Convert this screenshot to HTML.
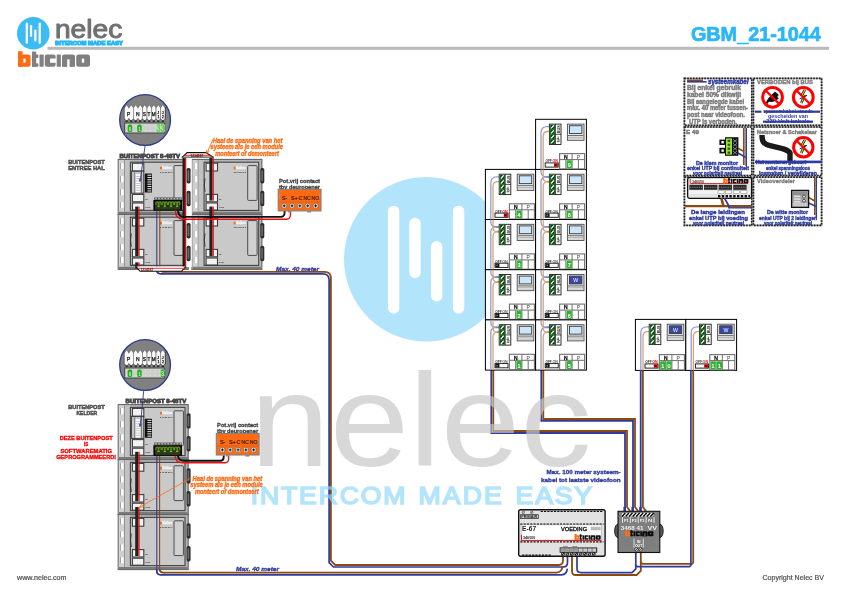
<!DOCTYPE html>
<html><head><meta charset="utf-8"><title>GBM_21-1044</title>
<style>
html,body{margin:0;padding:0;background:#fff;}
body{width:841px;height:595px;overflow:hidden;font-family:"Liberation Sans",sans-serif;}
svg{display:block;will-change:transform;}
svg text{font-family:"Liberation Sans",sans-serif;}
svg text.serif{font-family:"Liberation Serif",serif;}
</style></head>
<body>
<svg width="841" height="595" viewBox="0 0 841 595">
<rect width="841" height="595" fill="#fff"/>
<g id="header">
<circle cx="33.3" cy="33.2" r="16.3" fill="#3cbcf4"/><rect x="25.69" y="22.60" width="2.26" height="21.39" rx="1.13" fill="#fff"/><rect x="29.93" y="25.00" width="2.26" height="11.96" rx="1.13" fill="#fff"/><rect x="34.23" y="29.60" width="2.26" height="11.98" rx="1.13" fill="#fff"/><rect x="38.57" y="22.60" width="2.26" height="21.39" rx="1.13" fill="#fff"/>
<text x="54.9" y="37.6" font-size="26" fill="#707070" stroke="#707070" stroke-width="1" stroke-linejoin="round" text-anchor="start" textLength="67.4" lengthAdjust="spacingAndGlyphs">nelec</text>
<text x="55.2" y="45.3" font-size="5.2" fill="#29b6f6" font-weight="bold" text-anchor="start" textLength="67.8" lengthAdjust="spacingAndGlyphs" stroke="#29b6f6" stroke-width="1.0">INTERCOM MADE EASY</text>
<rect x="47.5" y="46.8" width="781.5" height="3" fill="#b9b9b9"/>
<g transform="translate(18,51.2) scale(1.0)"><rect x="0" y="0" width="4.60" height="15.60" rx="0.6" fill="#ff6a13"/><rect x="0" y="3.2" width="12.60" height="12.40" rx="2.2" fill="#ff6a13"/><rect x="5.4" y="7.4" width="2.20" height="4.20" rx="0.6" fill="#fff"/><rect x="14" y="0.4" width="4.20" height="15.20" rx="0.6" fill="#808080"/><rect x="14" y="3.2" width="6.40" height="3.60" rx="0.4" fill="#808080"/><rect x="14" y="12" width="6.40" height="3.60" rx="1.2" fill="#808080"/><rect x="21.5" y="3.2" width="4.20" height="12.40" rx="0.5" fill="#808080"/><rect x="26.8" y="3.2" width="10.80" height="12.40" rx="2.2" fill="#808080"/><rect x="32" y="7.4" width="6.00" height="4.20" rx="0.5" fill="#fff"/><rect x="38.7" y="3.2" width="4.20" height="12.40" rx="0.5" fill="#808080"/><rect x="44" y="3.2" width="13.00" height="12.40" rx="2.2" fill="#808080"/><rect x="44" y="9" width="13.00" height="6.60" rx="0.3" fill="#808080"/><rect x="49.2" y="8" width="2.40" height="7.80" rx="0.6" fill="#fff"/><rect x="58.2" y="3.2" width="13.80" height="12.40" rx="2.4" fill="#808080"/><rect x="63.8" y="7.4" width="2.40" height="4.20" rx="0.6" fill="#fff"/></g>
<text x="820.9" y="40.6" font-size="20" fill="#2bb7f7" font-weight="bold" text-anchor="end" textLength="130" lengthAdjust="spacingAndGlyphs" stroke="#2bb7f7" stroke-width="0.7">GBM_21-1044</text>
</g>
<g id="wires"><path d="M159.8 262 V268 Q159.8 271.8 163.6 271.8 H324.6 Q330.9 271.8 330.9 278 V560.6 L335.3 565 H558.6 Q563 565 563 560.6 V556" fill="none" stroke="#8a4a10" stroke-width="1.8" stroke-linejoin="miter"/><path d="M156.8 262 V270 Q156.8 273.8 160.6 273.8 H322.8 Q329.1 273.8 329.1 280 V562.6 L333.5 567 H563.1 Q567.5 567 567.5 562.6 V556" fill="none" stroke="#2f3c9e" stroke-width="1.7" stroke-linejoin="miter"/><path d="M159.6 560 V568.8 Q159.6 572.6 163.4 572.6 H556.6 Q562 572.4 562.6 566" fill="none" stroke="#8a4a10" stroke-width="1.8" stroke-linejoin="miter"/><path d="M156.8 560 V571 Q156.8 574.8 160.6 574.8 H561.4 Q566.8 574.6 567.3 568.6" fill="none" stroke="#2f3c9e" stroke-width="1.7" stroke-linejoin="miter"/><path d="M572 556 V571.2 Q572 575 575.8 575 H636.6 L640.8 570.8 V552" fill="none" stroke="#8a4a10" stroke-width="1.8" stroke-linejoin="miter"/><path d="M577 556 V568.8 Q577 572.6 580.8 572.6 H632 L635.8 568.8 V552" fill="none" stroke="#2f3c9e" stroke-width="1.7" stroke-linejoin="miter"/><path d="M693.2 370 V562.6 L692 563.8 H642.4 L640.8 562" fill="none" stroke="#8a4a10" stroke-width="1.8" stroke-linejoin="miter"/><path d="M690.9 370 V565.4 L689.6 566.7 H637 L635.8 565.4" fill="none" stroke="#2f3c9e" stroke-width="1.7" stroke-linejoin="miter"/><path d="M640.7 370 V511" fill="none" stroke="#2f3c9e" stroke-width="1.8" stroke-linejoin="miter"/><rect x="639.2" y="507" width="2.6" height="4.4" fill="#2f3c9e"/><path d="M642.9 370 V507 L645.5 510.4 V511.4" fill="none" stroke="#8a4a10" stroke-width="1.8" stroke-linejoin="miter"/><path d="M541.3 369 V420.9 H633 V511" fill="none" stroke="#2f3c9e" stroke-width="1.8" stroke-linejoin="miter"/><rect x="631.4" y="507" width="2.6" height="4.4" fill="#2f3c9e"/><path d="M543.3 369 V419 H635 V507 L637.6 510.4 V511.4" fill="none" stroke="#8a4a10" stroke-width="1.8" stroke-linejoin="miter"/><path d="M491.3 369 V433 H625 V511" fill="none" stroke="#2f3c9e" stroke-width="1.8" stroke-linejoin="miter"/><rect x="623.4" y="507" width="2.6" height="4.4" fill="#2f3c9e"/><path d="M493.3 369 V431 H627 V507 L629.6 510.4 V511.4" fill="none" stroke="#8a4a10" stroke-width="1.8" stroke-linejoin="miter"/></g>
<g id="wm" opacity="0.68">
<circle cx="426.3" cy="259.2" r="82.3" fill="#8fd9fb"/><rect x="387.90" y="205.70" width="11.40" height="108.00" rx="5.70" fill="#fff"/><rect x="409.30" y="217.80" width="11.40" height="60.40" rx="5.70" fill="#fff"/><rect x="431.00" y="241.00" width="11.40" height="60.50" rx="5.70" fill="#fff"/><rect x="452.90" y="205.70" width="11.40" height="108.00" rx="5.70" fill="#fff"/>
<text x="250.3" y="466" font-size="132" fill="#c7c7c7" text-anchor="start" textLength="341.2" lengthAdjust="spacingAndGlyphs">nelec</text>
<text transform="translate(250.8,504) scale(1.1,1)" font-size="24.2" fill="#8fd9fb" stroke="#8fd9fb" stroke-width="1.6" textLength="140.5" lengthAdjust="spacing">INTERCOM</text>
<text transform="translate(418.59999999999997,504) scale(1.1,1)" font-size="24.2" fill="#8fd9fb" stroke="#8fd9fb" stroke-width="1.6" textLength="75.6" lengthAdjust="spacing">MADE</text>
<text transform="translate(515.6,504) scale(1.1,1)" font-size="24.2" fill="#8fd9fb" stroke="#8fd9fb" stroke-width="1.6" textLength="69.5" lengthAdjust="spacing">EASY</text>
</g>
<g id="st_top"><g transform="translate(118.2,159.4)"><rect x="0" y="0" width="70" height="55" fill="#b6b6b6" stroke="#646464" stroke-width="1.1"/><rect x="0.6" y="0.6" width="6" height="53.8" fill="#d0d0d0"/><rect x="2" y="3.6" width="0.8" height="6.1" fill="#8a8a8a"/><rect x="2.7" y="3.6" width="2.7" height="6.1" fill="#fff"/><rect x="2" y="16.7" width="0.8" height="6.1" fill="#8a8a8a"/><rect x="2.7" y="16.7" width="2.7" height="6.1" fill="#fff"/><rect x="2" y="29.8" width="0.8" height="6.1" fill="#8a8a8a"/><rect x="2.7" y="29.8" width="2.7" height="6.1" fill="#fff"/><rect x="2" y="42.6" width="0.8" height="6.1" fill="#8a8a8a"/><rect x="2.7" y="42.6" width="2.7" height="6.1" fill="#fff"/><rect x="5.9" y="0.6" width="0.8" height="53.8" fill="#808080"/><rect x="6.7" y="0.6" width="5.4" height="53.8" fill="#c2c2c2"/><rect x="0.6" y="52.4" width="68.8" height="2.2" fill="#7a7a7a"/><rect x="12.2" y="2.8" width="54.6" height="48.2" fill="#c9c9c9" stroke="#484848" stroke-width="1.15"/><rect x="14.2" y="3.8" width="11.4" height="7.8" fill="#f2f2f2" stroke="#3c3c3c" stroke-width="1.1"/><path d="M13.2 19 Q11.6 25.5 13.2 32.4" fill="none" stroke="#2c2c2c" stroke-width="0.8"/><rect x="14.2" y="35" width="11.4" height="7.4" fill="#f2f2f2" stroke="#3c3c3c" stroke-width="1.1"/><rect x="14.2" y="43.6" width="11.4" height="7" fill="#f2f2f2" stroke="#3c3c3c" stroke-width="1.1"/><text x="26.8" y="40.2" font-size="2.5" fill="#333" font-weight="bold" text-anchor="start" >IN</text><text x="26.8" y="48.4" font-size="2.5" fill="#333" font-weight="bold" text-anchor="start" >OUT</text><rect x="41.8" y="7.3" width="1.9" height="2.6" fill="#ff6a13"/><text x="44" y="9.9" font-size="3.2" fill="#f4f4f4" font-weight="bold" text-anchor="start" textLength="10" lengthAdjust="spacingAndGlyphs" stroke="#f4f4f4" stroke-width="0.3">ticino</text><text x="41.6" y="13.5" font-size="2.5" fill="#222" font-weight="bold" text-anchor="start" textLength="12.8" lengthAdjust="spacingAndGlyphs" font-style="italic">342 91 00 1</text><rect x="55.8" y="6.2" width="9.4" height="34.8" rx="0.8" fill="#d0d0d0" stroke="#4c4c4c" stroke-width="1"/><rect x="13.2" y="11.8" width="12.4" height="22" fill="#c4c4c4" stroke="#3a3a3a" stroke-width="1"/><path d="M16.4 12 V33.6 M23.3 12 V33.6" stroke="#555" stroke-width="0.6"/><rect x="17.5" y="14.6" width="4.7" height="18.4" fill="#fbfbfb"/><rect x="17.5" y="16.70" width="4.7" height="0.6" fill="#a8a8a8"/><rect x="17.5" y="19.00" width="4.7" height="0.6" fill="#a8a8a8"/><rect x="17.5" y="21.30" width="4.7" height="0.6" fill="#a8a8a8"/><rect x="17.5" y="23.60" width="4.7" height="0.6" fill="#a8a8a8"/><rect x="17.5" y="25.90" width="4.7" height="0.6" fill="#a8a8a8"/><rect x="17.5" y="28.20" width="4.7" height="0.6" fill="#a8a8a8"/><rect x="17.5" y="30.50" width="4.7" height="0.6" fill="#a8a8a8"/><rect x="26.6" y="14.2" width="7.2" height="19" rx="0.6" fill="#111"/><rect x="29.2" y="15.30" width="4" height="1" fill="#f0f0f0"/><rect x="29.2" y="17.55" width="4" height="1" fill="#f0f0f0"/><rect x="29.2" y="19.80" width="4" height="1" fill="#f0f0f0"/><rect x="29.2" y="22.05" width="4" height="1" fill="#f0f0f0"/><rect x="29.2" y="24.30" width="4" height="1" fill="#f0f0f0"/><rect x="29.2" y="26.55" width="4" height="1" fill="#f0f0f0"/><rect x="29.2" y="28.80" width="4" height="1" fill="#f0f0f0"/><rect x="29.2" y="31.05" width="4" height="1" fill="#f0f0f0"/><rect x="36" y="38" width="27.6" height="2.5" fill="#585858"/><rect x="37.00" y="38.5" width="1.7" height="1.4" fill="#b8b8b8"/><rect x="40.05" y="38.5" width="1.7" height="1.4" fill="#b8b8b8"/><rect x="43.10" y="38.5" width="1.7" height="1.4" fill="#b8b8b8"/><rect x="46.15" y="38.5" width="1.7" height="1.4" fill="#b8b8b8"/><rect x="49.20" y="38.5" width="1.7" height="1.4" fill="#b8b8b8"/><rect x="52.25" y="38.5" width="1.7" height="1.4" fill="#b8b8b8"/><rect x="55.30" y="38.5" width="1.7" height="1.4" fill="#b8b8b8"/><rect x="58.35" y="38.5" width="1.7" height="1.4" fill="#b8b8b8"/><rect x="61.40" y="38.5" width="1.7" height="1.4" fill="#b8b8b8"/><rect x="35.2" y="40.6" width="28.6" height="10.6" fill="#050505"/><rect x="36.8" y="42" width="25.4" height="8" fill="#22390c"/><path d="M37.80 45.6 V43.6 Q37.80 42.4 39.00 42.4 Q40.20 42.4 40.20 43.6 V45.6 M40.60 45.6 V43.6 Q40.60 42.4 41.80 42.4 Q43.00 42.4 43.00 43.6 V45.6" fill="none" stroke="#5f921c" stroke-width="1.15"/><rect x="39.30" y="46.1" width="2.2" height="1.2" fill="#8fe020"/><rect x="37.60" y="47.6" width="5.4" height="1.6" fill="#3a3a3a"/><path d="M44.00 45.6 V43.6 Q44.00 42.4 45.20 42.4 Q46.40 42.4 46.40 43.6 V45.6 M46.80 45.6 V43.6 Q46.80 42.4 48.00 42.4 Q49.20 42.4 49.20 43.6 V45.6" fill="none" stroke="#5f921c" stroke-width="1.15"/><rect x="45.50" y="46.1" width="2.2" height="1.2" fill="#8fe020"/><rect x="43.80" y="47.6" width="5.4" height="1.6" fill="#3a3a3a"/><path d="M50.20 45.6 V43.6 Q50.20 42.4 51.40 42.4 Q52.60 42.4 52.60 43.6 V45.6 M53.00 45.6 V43.6 Q53.00 42.4 54.20 42.4 Q55.40 42.4 55.40 43.6 V45.6" fill="none" stroke="#5f921c" stroke-width="1.15"/><rect x="51.70" y="46.1" width="2.2" height="1.2" fill="#8fe020"/><rect x="50.00" y="47.6" width="5.4" height="1.6" fill="#3a3a3a"/><path d="M56.40 45.6 V43.6 Q56.40 42.4 57.60 42.4 Q58.80 42.4 58.80 43.6 V45.6 M59.20 45.6 V43.6 Q59.20 42.4 60.40 42.4 Q61.60 42.4 61.60 43.6 V45.6" fill="none" stroke="#5f921c" stroke-width="1.15"/><rect x="57.90" y="46.1" width="2.2" height="1.2" fill="#8fe020"/><rect x="56.20" y="47.6" width="5.4" height="1.6" fill="#3a3a3a"/><rect x="36.8" y="49.2" width="25.4" height="1" fill="#24400c"/><rect x="68.4" y="8.6" width="4" height="15.4" rx="1.6" fill="#2e2e2e"/><rect x="69.4" y="10.8" width="1.6" height="11" rx="0.8" fill="#6a6a6a"/><rect x="68.4" y="31.4" width="4" height="15.4" rx="1.6" fill="#2e2e2e"/><rect x="69.4" y="33.6" width="1.6" height="11" rx="0.8" fill="#6a6a6a"/></g><g transform="translate(118.2,214.4)"><rect x="0" y="0" width="70" height="55" fill="#b6b6b6" stroke="#646464" stroke-width="1.1"/><rect x="0.6" y="0.6" width="6" height="53.8" fill="#d0d0d0"/><rect x="2" y="3.6" width="0.8" height="6.1" fill="#8a8a8a"/><rect x="2.7" y="3.6" width="2.7" height="6.1" fill="#fff"/><rect x="2" y="16.7" width="0.8" height="6.1" fill="#8a8a8a"/><rect x="2.7" y="16.7" width="2.7" height="6.1" fill="#fff"/><rect x="2" y="29.8" width="0.8" height="6.1" fill="#8a8a8a"/><rect x="2.7" y="29.8" width="2.7" height="6.1" fill="#fff"/><rect x="2" y="42.6" width="0.8" height="6.1" fill="#8a8a8a"/><rect x="2.7" y="42.6" width="2.7" height="6.1" fill="#fff"/><rect x="5.9" y="0.6" width="0.8" height="53.8" fill="#808080"/><rect x="6.7" y="0.6" width="5.4" height="53.8" fill="#c2c2c2"/><rect x="0.6" y="52.4" width="68.8" height="2.2" fill="#7a7a7a"/><rect x="12.2" y="2.8" width="54.6" height="48.2" fill="#c9c9c9" stroke="#484848" stroke-width="1.15"/><rect x="14.2" y="3.8" width="11.4" height="7.8" fill="#f2f2f2" stroke="#3c3c3c" stroke-width="1.1"/><path d="M13.2 19 Q11.6 25.5 13.2 32.4" fill="none" stroke="#2c2c2c" stroke-width="0.8"/><rect x="14.2" y="35" width="11.4" height="7.4" fill="#f2f2f2" stroke="#3c3c3c" stroke-width="1.1"/><rect x="14.2" y="43.6" width="11.4" height="7" fill="#f2f2f2" stroke="#3c3c3c" stroke-width="1.1"/><text x="26.8" y="40.2" font-size="2.5" fill="#333" font-weight="bold" text-anchor="start" >IN</text><text x="26.8" y="48.4" font-size="2.5" fill="#333" font-weight="bold" text-anchor="start" >OUT</text><rect x="41.8" y="7.3" width="1.9" height="2.6" fill="#ff6a13"/><text x="44" y="9.9" font-size="3.2" fill="#f4f4f4" font-weight="bold" text-anchor="start" textLength="10" lengthAdjust="spacingAndGlyphs" stroke="#f4f4f4" stroke-width="0.3">ticino</text><text x="41.6" y="13.5" font-size="2.5" fill="#222" font-weight="bold" text-anchor="start" textLength="12.8" lengthAdjust="spacingAndGlyphs" font-style="italic">342 91 00 1</text><rect x="55.8" y="6.2" width="9.4" height="34.8" rx="0.8" fill="#d0d0d0" stroke="#4c4c4c" stroke-width="1"/><rect x="68.4" y="8.6" width="4" height="15.4" rx="1.6" fill="#2e2e2e"/><rect x="69.4" y="10.8" width="1.6" height="11" rx="0.8" fill="#6a6a6a"/><rect x="68.4" y="31.4" width="4" height="15.4" rx="1.6" fill="#2e2e2e"/><rect x="69.4" y="33.6" width="1.6" height="11" rx="0.8" fill="#6a6a6a"/></g><g transform="translate(191.9,159.4)"><rect x="0" y="0" width="70" height="55" fill="#b6b6b6" stroke="#646464" stroke-width="1.1"/><rect x="0.6" y="0.6" width="6" height="53.8" fill="#d0d0d0"/><rect x="2" y="3.6" width="0.8" height="6.1" fill="#8a8a8a"/><rect x="2.7" y="3.6" width="2.7" height="6.1" fill="#fff"/><rect x="2" y="16.7" width="0.8" height="6.1" fill="#8a8a8a"/><rect x="2.7" y="16.7" width="2.7" height="6.1" fill="#fff"/><rect x="2" y="29.8" width="0.8" height="6.1" fill="#8a8a8a"/><rect x="2.7" y="29.8" width="2.7" height="6.1" fill="#fff"/><rect x="2" y="42.6" width="0.8" height="6.1" fill="#8a8a8a"/><rect x="2.7" y="42.6" width="2.7" height="6.1" fill="#fff"/><rect x="5.9" y="0.6" width="0.8" height="53.8" fill="#808080"/><rect x="6.7" y="0.6" width="5.4" height="53.8" fill="#c2c2c2"/><rect x="0.6" y="52.4" width="68.8" height="2.2" fill="#7a7a7a"/><rect x="12.2" y="2.8" width="54.6" height="48.2" fill="#c9c9c9" stroke="#484848" stroke-width="1.15"/><rect x="14.2" y="3.8" width="11.4" height="7.8" fill="#f2f2f2" stroke="#3c3c3c" stroke-width="1.1"/><path d="M13.2 19 Q11.6 25.5 13.2 32.4" fill="none" stroke="#2c2c2c" stroke-width="0.8"/><rect x="14.2" y="35" width="11.4" height="7.4" fill="#f2f2f2" stroke="#3c3c3c" stroke-width="1.1"/><rect x="14.2" y="43.6" width="11.4" height="7" fill="#f2f2f2" stroke="#3c3c3c" stroke-width="1.1"/><text x="26.8" y="40.2" font-size="2.5" fill="#333" font-weight="bold" text-anchor="start" >IN</text><text x="26.8" y="48.4" font-size="2.5" fill="#333" font-weight="bold" text-anchor="start" >OUT</text><rect x="41.8" y="7.3" width="1.9" height="2.6" fill="#ff6a13"/><text x="44" y="9.9" font-size="3.2" fill="#f4f4f4" font-weight="bold" text-anchor="start" textLength="10" lengthAdjust="spacingAndGlyphs" stroke="#f4f4f4" stroke-width="0.3">ticino</text><text x="41.6" y="13.5" font-size="2.5" fill="#222" font-weight="bold" text-anchor="start" textLength="12.8" lengthAdjust="spacingAndGlyphs" font-style="italic">342 91 00 1</text><rect x="55.8" y="6.2" width="9.4" height="34.8" rx="0.8" fill="#d0d0d0" stroke="#4c4c4c" stroke-width="1"/><rect x="68.4" y="8.6" width="4" height="15.4" rx="1.6" fill="#2e2e2e"/><rect x="69.4" y="10.8" width="1.6" height="11" rx="0.8" fill="#6a6a6a"/><rect x="68.4" y="31.4" width="4" height="15.4" rx="1.6" fill="#2e2e2e"/><rect x="69.4" y="33.6" width="1.6" height="11" rx="0.8" fill="#6a6a6a"/></g><g transform="translate(191.9,214.4)"><rect x="0" y="0" width="70" height="55" fill="#b6b6b6" stroke="#646464" stroke-width="1.1"/><rect x="0.6" y="0.6" width="6" height="53.8" fill="#d0d0d0"/><rect x="2" y="3.6" width="0.8" height="6.1" fill="#8a8a8a"/><rect x="2.7" y="3.6" width="2.7" height="6.1" fill="#fff"/><rect x="2" y="16.7" width="0.8" height="6.1" fill="#8a8a8a"/><rect x="2.7" y="16.7" width="2.7" height="6.1" fill="#fff"/><rect x="2" y="29.8" width="0.8" height="6.1" fill="#8a8a8a"/><rect x="2.7" y="29.8" width="2.7" height="6.1" fill="#fff"/><rect x="2" y="42.6" width="0.8" height="6.1" fill="#8a8a8a"/><rect x="2.7" y="42.6" width="2.7" height="6.1" fill="#fff"/><rect x="5.9" y="0.6" width="0.8" height="53.8" fill="#808080"/><rect x="6.7" y="0.6" width="5.4" height="53.8" fill="#c2c2c2"/><rect x="0.6" y="52.4" width="68.8" height="2.2" fill="#7a7a7a"/><rect x="12.2" y="2.8" width="54.6" height="48.2" fill="#c9c9c9" stroke="#484848" stroke-width="1.15"/><rect x="14.2" y="3.8" width="11.4" height="7.8" fill="#f2f2f2" stroke="#3c3c3c" stroke-width="1.1"/><path d="M13.2 19 Q11.6 25.5 13.2 32.4" fill="none" stroke="#2c2c2c" stroke-width="0.8"/><rect x="14.2" y="35" width="11.4" height="7.4" fill="#f2f2f2" stroke="#3c3c3c" stroke-width="1.1"/><rect x="14.2" y="43.6" width="11.4" height="7" fill="#f2f2f2" stroke="#3c3c3c" stroke-width="1.1"/><text x="26.8" y="40.2" font-size="2.5" fill="#333" font-weight="bold" text-anchor="start" >IN</text><text x="26.8" y="48.4" font-size="2.5" fill="#333" font-weight="bold" text-anchor="start" >OUT</text><rect x="41.8" y="7.3" width="1.9" height="2.6" fill="#ff6a13"/><text x="44" y="9.9" font-size="3.2" fill="#f4f4f4" font-weight="bold" text-anchor="start" textLength="10" lengthAdjust="spacingAndGlyphs" stroke="#f4f4f4" stroke-width="0.3">ticino</text><text x="41.6" y="13.5" font-size="2.5" fill="#222" font-weight="bold" text-anchor="start" textLength="12.8" lengthAdjust="spacingAndGlyphs" font-style="italic">342 91 00 1</text><rect x="55.8" y="6.2" width="9.4" height="34.8" rx="0.8" fill="#d0d0d0" stroke="#4c4c4c" stroke-width="1"/><rect x="68.4" y="8.6" width="4" height="15.4" rx="1.6" fill="#2e2e2e"/><rect x="69.4" y="10.8" width="1.6" height="11" rx="0.8" fill="#6a6a6a"/><rect x="68.4" y="31.4" width="4" height="15.4" rx="1.6" fill="#2e2e2e"/><rect x="69.4" y="33.6" width="1.6" height="11" rx="0.8" fill="#6a6a6a"/></g><path d="M156.8 210.8 V270 Q156.8 273.8 160.6 273.8 H164" fill="none" stroke="#2f3c9e" stroke-width="1.1" stroke-linejoin="miter"/><path d="M159.8 210.8 V268 Q159.8 271.8 163.6 271.8 H166" fill="none" stroke="#8a4a10" stroke-width="1.1" stroke-linejoin="miter"/><rect x="135.20000000000002" y="206.6" width="3.1" height="49.400000000000006" fill="#222"/><rect x="138.3" y="206.6" width="1.3" height="49.400000000000006" fill="#e81010"/><rect x="135.20000000000002" y="262.4" width="3.1" height="6.2000000000000455" fill="#222"/><rect x="138.3" y="262.4" width="1.3" height="6.2000000000000455" fill="#e81010"/><rect x="186.2" y="158" width="5.6" height="109" fill="#fff"/><rect x="186.6" y="168" width="4" height="15.4" rx="1.6" fill="#2e2e2e"/><rect x="187.6" y="170.2" width="1.6" height="11" rx="0.8" fill="#6a6a6a"/><rect x="186.6" y="190.8" width="4" height="15.4" rx="1.6" fill="#2e2e2e"/><rect x="187.6" y="193.0" width="1.6" height="11" rx="0.8" fill="#6a6a6a"/><rect x="186.6" y="223" width="4" height="15.4" rx="1.6" fill="#2e2e2e"/><rect x="187.6" y="225.2" width="1.6" height="11" rx="0.8" fill="#6a6a6a"/><rect x="186.6" y="245.8" width="4" height="15.4" rx="1.6" fill="#2e2e2e"/><rect x="187.6" y="248.0" width="1.6" height="11" rx="0.8" fill="#6a6a6a"/><rect x="182.5" y="157.6" width="2.4" height="110" fill="#1c1c1c"/><rect x="184.9" y="157.6" width="1.3" height="110" fill="#e81010"/><path d="M181.7 157.8 L187.2 152.5 H206 L213.6 157.8 Z" fill="#fff"/><path d="M181.9 157.6 L187.2 152.6 H206 L213.4 157.6" fill="none" stroke="#111" stroke-width="1.2"/><path d="M184.4 155.3 H211.4" stroke="#e81010" stroke-width="0.9"/><path d="M181.7 157.1 H213.6" stroke="#555" stroke-width="1.4"/><text x="190.4" y="157.3" font-size="2.7" fill="#500" font-weight="bold" text-anchor="start" textLength="13" lengthAdjust="spacingAndGlyphs" >1234567</text><path d="M136.1 266.6 L140.1 271.3 H181.4 L185.8 266.6 Z" fill="#fff"/><path d="M136.1 266.6 L140.1 271.3 H181.4 L185.8 266.6" fill="none" stroke="#111" stroke-width="1.1"/><path d="M138 268.3 H184.4" stroke="#f04040" stroke-width="1"/><text x="140.4" y="270.6" font-size="2.7" fill="#500" font-weight="bold" text-anchor="start" textLength="13" lengthAdjust="spacingAndGlyphs" >1234567</text><rect x="209.4" y="157.8" width="3.1" height="42.79999999999998" fill="#222"/><rect x="212.5" y="157.8" width="1.3" height="42.79999999999998" fill="#e81010"/><rect x="209.4" y="206.6" width="3.1" height="49.400000000000006" fill="#222"/><rect x="212.5" y="206.6" width="1.3" height="49.400000000000006" fill="#e81010"/><path d="M178 210.6 Q178.4 216.8 184 216.9 H281 Q284.2 216.9 284.6 213 V211" fill="none" stroke="#111" stroke-width="1.9"/><path d="M175.4 210.6 Q175.4 219.2 183 219.2 H286.6 Q290 219.2 290.5 215 V211" fill="none" stroke="#e81010" stroke-width="1.4"/><g transform="translate(278.2,189.3)"><text x="0.8" y="-6.6" font-size="5.9" fill="#444" font-weight="bold" text-anchor="start" textLength="41" lengthAdjust="spacingAndGlyphs" stroke="#444" stroke-width="0.35">Pot.vrij contact</text><text x="0.8" y="-0.8" font-size="5.9" fill="#444" font-weight="bold" text-anchor="start" textLength="41" lengthAdjust="spacingAndGlyphs" stroke="#444" stroke-width="0.35">tbv deuropener</text><rect x="0" y="0" width="42.8" height="21.6" fill="#ff6a13" stroke="#7f7f7f" stroke-width="1.1"/><rect x="0.5" y="12.2" width="41.8" height="0.7" fill="#d85a10"/><rect x="0.8" y="5.4" width="1.2" height="3.4" fill="#c9926a"/><rect x="40.8" y="5.4" width="1.2" height="3.4" fill="#c9926a"/><text x="3.6" y="10.6" font-size="5.6" fill="#3a1c06" font-weight="normal" text-anchor="start" stroke="#3a1c06" stroke-width="0.2">S-</text><text x="12.6" y="10.6" font-size="5.6" fill="#3a1c06" font-weight="normal" text-anchor="start" stroke="#3a1c06" stroke-width="0.2">S+</text><text x="20.2" y="10.6" font-size="5.6" fill="#3a1c06" font-weight="normal" text-anchor="start" stroke="#3a1c06" stroke-width="0.2">C</text><text x="25.2" y="10.6" font-size="5.6" fill="#3a1c06" font-weight="normal" text-anchor="start" textLength="7.4" lengthAdjust="spacingAndGlyphs" stroke="#3a1c06" stroke-width="0.2">NC</text><text x="33.4" y="10.6" font-size="5.6" fill="#3a1c06" font-weight="normal" text-anchor="start" textLength="7.8" lengthAdjust="spacingAndGlyphs" stroke="#3a1c06" stroke-width="0.2">NO</text><circle cx="6.00" cy="16.5" r="2.6" fill="#f4f4f4" stroke="#6a4a34" stroke-width="0.6"/><path d="M4.50 16.5 H7.50 M6.00 15 V18" stroke="#111" stroke-width="1"/><circle cx="13.85" cy="16.5" r="2.6" fill="#f4f4f4" stroke="#6a4a34" stroke-width="0.6"/><path d="M12.35 16.5 H15.35 M13.85 15 V18" stroke="#111" stroke-width="1"/><circle cx="21.70" cy="16.5" r="2.6" fill="#f4f4f4" stroke="#6a4a34" stroke-width="0.6"/><path d="M20.20 16.5 H23.20 M21.70 15 V18" stroke="#111" stroke-width="1"/><circle cx="29.55" cy="16.5" r="2.6" fill="#f4f4f4" stroke="#6a4a34" stroke-width="0.6"/><path d="M28.05 16.5 H31.05 M29.55 15 V18" stroke="#111" stroke-width="1"/><circle cx="37.40" cy="16.5" r="2.6" fill="#f4f4f4" stroke="#6a4a34" stroke-width="0.6"/><path d="M35.90 16.5 H38.90 M37.40 15 V18" stroke="#111" stroke-width="1"/><rect x="9.8" y="21.6" width="3.2" height="1.6" fill="#8a8a8a"/><rect x="29" y="21.6" width="4" height="1.6" fill="#8a8a8a"/></g><path d="M145.2 145 Q143 160 140.2 181" fill="none" stroke="#2b3a8e" stroke-width="0.9"/><path d="M139 178.5 L140.1 181.6 L141.6 178.8" fill="none" stroke="#2b3a8e" stroke-width="0.8"/><g transform="translate(145.1,120)"><circle r="25.4" fill="#808080" stroke="#2b3a8e" stroke-width="1.3"/><rect x="-20.9" y="-12.4" width="41.1" height="11.4" fill="#fafafa" stroke="#222" stroke-width="0.6"/><path d="M-20.60 -12.2 L-18.44 -15.2 L-16.28 -12.2 V-1.2 L-18.44 0.9 L-20.60 -1.2 Z" fill="#fafafa" stroke="#333" stroke-width="0.4"/><path d="M-16.08 -12.2 L-13.92 -15.2 L-11.76 -12.2 V-1.2 L-13.92 0.9 L-16.08 -1.2 Z" fill="#fafafa" stroke="#333" stroke-width="0.4"/><path d="M-11.56 -12.2 L-9.40 -15.2 L-7.24 -12.2 V-1.2 L-9.40 0.9 L-11.56 -1.2 Z" fill="#fafafa" stroke="#333" stroke-width="0.4"/><path d="M-7.04 -12.2 L-4.88 -15.2 L-2.72 -12.2 V-1.2 L-4.88 0.9 L-7.04 -1.2 Z" fill="#fafafa" stroke="#333" stroke-width="0.4"/><path d="M-2.52 -12.2 L-0.36 -15.2 L1.80 -12.2 V-1.2 L-0.36 0.9 L-2.52 -1.2 Z" fill="#fafafa" stroke="#333" stroke-width="0.4"/><path d="M2.00 -12.2 L4.16 -15.2 L6.32 -12.2 V-1.2 L4.16 0.9 L2.00 -1.2 Z" fill="#fafafa" stroke="#333" stroke-width="0.4"/><path d="M6.52 -12.2 L8.68 -15.2 L10.84 -12.2 V-1.2 L8.68 0.9 L6.52 -1.2 Z" fill="#fafafa" stroke="#333" stroke-width="0.4"/><path d="M11.04 -12.2 L13.20 -15.2 L15.36 -12.2 V-1.2 L13.20 0.9 L11.04 -1.2 Z" fill="#fafafa" stroke="#333" stroke-width="0.4"/><path d="M15.56 -12.2 L17.72 -15.2 L19.88 -12.2 V-1.2 L17.72 0.9 L15.56 -1.2 Z" fill="#fafafa" stroke="#333" stroke-width="0.4"/><rect x="-20.20" y="-11.6" width="8.04" height="9.6" fill="#fafafa"/><rect x="-11.16" y="-11.6" width="8.04" height="9.6" fill="#fafafa"/><text x="-16.406" y="-4.2" font-size="4.9" fill="#111" font-weight="normal" text-anchor="middle" stroke="#111" stroke-width="0.25">P</text><text x="-7.366" y="-4.2" font-size="4.9" fill="#111" font-weight="normal" text-anchor="middle" stroke="#111" stroke-width="0.25">N</text><text x="-0.8120000000000012" y="-4.2" font-size="4.7" fill="#111" font-weight="normal" text-anchor="middle" stroke="#111" stroke-width="0.25">S</text><text x="3.8888" y="-4.2" font-size="4.7" fill="#111" font-weight="normal" text-anchor="middle" stroke="#111" stroke-width="0.25">T</text><text x="8.5896" y="-4.2" font-size="4.7" fill="#111" font-weight="normal" text-anchor="middle" stroke="#111" stroke-width="0.25">M</text><text x="12.974" y="-6.2" font-size="3.7" fill="#111" font-weight="normal" text-anchor="middle" stroke="#111" stroke-width="0.25">J</text><text x="13.425999999999998" y="-2.4" font-size="3.5" fill="#111" font-weight="normal" text-anchor="middle" stroke="#111" stroke-width="0.25">1</text><text x="17.493999999999996" y="-6.2" font-size="3.7" fill="#111" font-weight="normal" text-anchor="middle" stroke="#111" stroke-width="0.25">J</text><text x="17.946" y="-2.4" font-size="3.5" fill="#111" font-weight="normal" text-anchor="middle" stroke="#111" stroke-width="0.25">2</text><rect x="-19.50" y="0.5" width="2.1" height="1.2" fill="#000"/><rect x="-14.98" y="0.5" width="2.1" height="1.2" fill="#000"/><rect x="-10.46" y="0.5" width="2.1" height="1.2" fill="#000"/><rect x="-5.94" y="0.5" width="2.1" height="1.2" fill="#000"/><rect x="-1.42" y="0.5" width="2.1" height="1.2" fill="#000"/><rect x="3.10" y="0.5" width="2.1" height="1.2" fill="#000"/><rect x="7.62" y="0.5" width="2.1" height="1.2" fill="#000"/><rect x="12.14" y="0.5" width="2.1" height="1.2" fill="#000"/><rect x="16.66" y="0.5" width="2.1" height="1.2" fill="#000"/><rect x="-20.4" y="3" width="40" height="10" fill="#cfcfcf" stroke="#3c3c3c" stroke-width="0.9"/><rect x="-19.00" y="5.3" width="1" height="1" fill="#d4ffb0"/><rect x="-19.00" y="9.8" width="1" height="1" fill="#d4ffb0"/><rect x="-14.28" y="5.3" width="1" height="1" fill="#d4ffb0"/><rect x="-14.28" y="9.8" width="1" height="1" fill="#d4ffb0"/><rect x="-9.56" y="5.3" width="1" height="1" fill="#d4ffb0"/><rect x="-9.56" y="9.8" width="1" height="1" fill="#d4ffb0"/><rect x="-4.84" y="5.3" width="1" height="1" fill="#d4ffb0"/><rect x="-4.84" y="9.8" width="1" height="1" fill="#d4ffb0"/><rect x="-0.12" y="5.3" width="1" height="1" fill="#d4ffb0"/><rect x="-0.12" y="9.8" width="1" height="1" fill="#d4ffb0"/><rect x="4.60" y="5.3" width="1" height="1" fill="#d4ffb0"/><rect x="4.60" y="9.8" width="1" height="1" fill="#d4ffb0"/><rect x="9.32" y="5.3" width="1" height="1" fill="#d4ffb0"/><rect x="9.32" y="9.8" width="1" height="1" fill="#d4ffb0"/><rect x="14.04" y="5.3" width="1" height="1" fill="#d4ffb0"/><rect x="14.04" y="9.8" width="1" height="1" fill="#d4ffb0"/><rect x="18.76" y="5.3" width="1" height="1" fill="#d4ffb0"/><rect x="18.76" y="9.8" width="1" height="1" fill="#d4ffb0"/><rect x="-17.40" y="4.4" width="4.5" height="7.7" rx="1.7" fill="#22b122"/><text x="-15.149999999999999" y="11.1" font-size="4.6" fill="#baf0a0" font-weight="bold" text-anchor="middle" >0</text><rect x="-7.90" y="4.4" width="4.5" height="7.7" rx="1.7" fill="#22b122"/><text x="-5.65" y="11.1" font-size="4.6" fill="#baf0a0" font-weight="bold" text-anchor="middle" >1</text><rect x="11.4" y="4" width="8" height="8" fill="#c4e8b4"/><text x="15.5" y="11.8" font-size="10.4" fill="#5fd05f" font-weight="bold" text-anchor="middle" textLength="8" lengthAdjust="spacingAndGlyphs" stroke="#5fd05f" stroke-width="0.3">33</text></g><text x="119.4" y="157.8" font-size="6.2" fill="#4a4a4a" font-weight="bold" text-anchor="start" textLength="60.6" lengthAdjust="spacingAndGlyphs" stroke="#4a4a4a" stroke-width="0.9">BUITENPOST 8-48TV</text><text x="68.2" y="163.7" font-size="5.8" fill="#555" font-weight="bold" text-anchor="start" textLength="36.5" lengthAdjust="spacingAndGlyphs" stroke="#555" stroke-width="0.55">BUITENPOST</text><text x="68.2" y="169.8" font-size="5.8" fill="#555" font-weight="bold" text-anchor="start" textLength="36.5" lengthAdjust="spacingAndGlyphs" stroke="#555" stroke-width="0.55">ENTREE HAL</text><path d="M212.8 139.6 L207.2 152.8" stroke="#ff6a13" stroke-width="0.9" fill="none"/><path d="M206.2 150 L207 153.4 L209.4 151" stroke="#ff6a13" stroke-width="0.9" fill="none"/><text x="212.8" y="143.0" font-size="6.3" fill="#ff6a13" font-weight="bold" text-anchor="start" textLength="69.6" lengthAdjust="spacingAndGlyphs" font-style="italic" stroke="#ff6a13" stroke-width="0.35">Haal de spanning van het</text><text x="210.5" y="149.45" font-size="6.3" fill="#ff6a13" font-weight="bold" text-anchor="start" textLength="72.5" lengthAdjust="spacingAndGlyphs" font-style="italic" stroke="#ff6a13" stroke-width="0.35">systeem als je een module</text><text x="215.2" y="155.9" font-size="6.3" fill="#ff6a13" font-weight="bold" text-anchor="start" textLength="63.6" lengthAdjust="spacingAndGlyphs" font-style="italic" stroke="#ff6a13" stroke-width="0.35">monteert of demonteert</text><text x="276" y="270.6" font-size="5.6" fill="#2f3c9e" font-weight="bold" text-anchor="start" textLength="43" lengthAdjust="spacingAndGlyphs" font-style="italic" stroke="#2f3c9e" stroke-width="0.3">Max. 40 meter</text></g>
<g id="st_bot"><g transform="translate(118.2,404.6)"><rect x="0" y="0" width="70" height="55" fill="#b6b6b6" stroke="#646464" stroke-width="1.1"/><rect x="0.6" y="0.6" width="6" height="53.8" fill="#d0d0d0"/><rect x="2" y="3.6" width="0.8" height="6.1" fill="#8a8a8a"/><rect x="2.7" y="3.6" width="2.7" height="6.1" fill="#fff"/><rect x="2" y="16.7" width="0.8" height="6.1" fill="#8a8a8a"/><rect x="2.7" y="16.7" width="2.7" height="6.1" fill="#fff"/><rect x="2" y="29.8" width="0.8" height="6.1" fill="#8a8a8a"/><rect x="2.7" y="29.8" width="2.7" height="6.1" fill="#fff"/><rect x="2" y="42.6" width="0.8" height="6.1" fill="#8a8a8a"/><rect x="2.7" y="42.6" width="2.7" height="6.1" fill="#fff"/><rect x="5.9" y="0.6" width="0.8" height="53.8" fill="#808080"/><rect x="6.7" y="0.6" width="5.4" height="53.8" fill="#c2c2c2"/><rect x="0.6" y="52.4" width="68.8" height="2.2" fill="#7a7a7a"/><rect x="12.2" y="2.8" width="54.6" height="48.2" fill="#c9c9c9" stroke="#484848" stroke-width="1.15"/><rect x="14.2" y="3.8" width="11.4" height="7.8" fill="#f2f2f2" stroke="#3c3c3c" stroke-width="1.1"/><path d="M13.2 19 Q11.6 25.5 13.2 32.4" fill="none" stroke="#2c2c2c" stroke-width="0.8"/><rect x="14.2" y="35" width="11.4" height="7.4" fill="#f2f2f2" stroke="#3c3c3c" stroke-width="1.1"/><rect x="14.2" y="43.6" width="11.4" height="7" fill="#f2f2f2" stroke="#3c3c3c" stroke-width="1.1"/><text x="26.8" y="40.2" font-size="2.5" fill="#333" font-weight="bold" text-anchor="start" >IN</text><text x="26.8" y="48.4" font-size="2.5" fill="#333" font-weight="bold" text-anchor="start" >OUT</text><rect x="41.8" y="7.3" width="1.9" height="2.6" fill="#ff6a13"/><text x="44" y="9.9" font-size="3.2" fill="#f4f4f4" font-weight="bold" text-anchor="start" textLength="10" lengthAdjust="spacingAndGlyphs" stroke="#f4f4f4" stroke-width="0.3">ticino</text><text x="41.6" y="13.5" font-size="2.5" fill="#222" font-weight="bold" text-anchor="start" textLength="12.8" lengthAdjust="spacingAndGlyphs" font-style="italic">342 91 00 1</text><rect x="55.8" y="6.2" width="9.4" height="34.8" rx="0.8" fill="#d0d0d0" stroke="#4c4c4c" stroke-width="1"/><rect x="13.2" y="11.8" width="12.4" height="22" fill="#c4c4c4" stroke="#3a3a3a" stroke-width="1"/><path d="M16.4 12 V33.6 M23.3 12 V33.6" stroke="#555" stroke-width="0.6"/><rect x="17.5" y="14.6" width="4.7" height="18.4" fill="#fbfbfb"/><rect x="17.5" y="16.70" width="4.7" height="0.6" fill="#a8a8a8"/><rect x="17.5" y="19.00" width="4.7" height="0.6" fill="#a8a8a8"/><rect x="17.5" y="21.30" width="4.7" height="0.6" fill="#a8a8a8"/><rect x="17.5" y="23.60" width="4.7" height="0.6" fill="#a8a8a8"/><rect x="17.5" y="25.90" width="4.7" height="0.6" fill="#a8a8a8"/><rect x="17.5" y="28.20" width="4.7" height="0.6" fill="#a8a8a8"/><rect x="17.5" y="30.50" width="4.7" height="0.6" fill="#a8a8a8"/><rect x="26.6" y="14.2" width="7.2" height="19" rx="0.6" fill="#111"/><rect x="29.2" y="15.30" width="4" height="1" fill="#f0f0f0"/><rect x="29.2" y="17.55" width="4" height="1" fill="#f0f0f0"/><rect x="29.2" y="19.80" width="4" height="1" fill="#f0f0f0"/><rect x="29.2" y="22.05" width="4" height="1" fill="#f0f0f0"/><rect x="29.2" y="24.30" width="4" height="1" fill="#f0f0f0"/><rect x="29.2" y="26.55" width="4" height="1" fill="#f0f0f0"/><rect x="29.2" y="28.80" width="4" height="1" fill="#f0f0f0"/><rect x="29.2" y="31.05" width="4" height="1" fill="#f0f0f0"/><rect x="36" y="38" width="27.6" height="2.5" fill="#585858"/><rect x="37.00" y="38.5" width="1.7" height="1.4" fill="#b8b8b8"/><rect x="40.05" y="38.5" width="1.7" height="1.4" fill="#b8b8b8"/><rect x="43.10" y="38.5" width="1.7" height="1.4" fill="#b8b8b8"/><rect x="46.15" y="38.5" width="1.7" height="1.4" fill="#b8b8b8"/><rect x="49.20" y="38.5" width="1.7" height="1.4" fill="#b8b8b8"/><rect x="52.25" y="38.5" width="1.7" height="1.4" fill="#b8b8b8"/><rect x="55.30" y="38.5" width="1.7" height="1.4" fill="#b8b8b8"/><rect x="58.35" y="38.5" width="1.7" height="1.4" fill="#b8b8b8"/><rect x="61.40" y="38.5" width="1.7" height="1.4" fill="#b8b8b8"/><rect x="35.2" y="40.6" width="28.6" height="10.6" fill="#050505"/><rect x="36.8" y="42" width="25.4" height="8" fill="#22390c"/><path d="M37.80 45.6 V43.6 Q37.80 42.4 39.00 42.4 Q40.20 42.4 40.20 43.6 V45.6 M40.60 45.6 V43.6 Q40.60 42.4 41.80 42.4 Q43.00 42.4 43.00 43.6 V45.6" fill="none" stroke="#5f921c" stroke-width="1.15"/><rect x="39.30" y="46.1" width="2.2" height="1.2" fill="#8fe020"/><rect x="37.60" y="47.6" width="5.4" height="1.6" fill="#3a3a3a"/><path d="M44.00 45.6 V43.6 Q44.00 42.4 45.20 42.4 Q46.40 42.4 46.40 43.6 V45.6 M46.80 45.6 V43.6 Q46.80 42.4 48.00 42.4 Q49.20 42.4 49.20 43.6 V45.6" fill="none" stroke="#5f921c" stroke-width="1.15"/><rect x="45.50" y="46.1" width="2.2" height="1.2" fill="#8fe020"/><rect x="43.80" y="47.6" width="5.4" height="1.6" fill="#3a3a3a"/><path d="M50.20 45.6 V43.6 Q50.20 42.4 51.40 42.4 Q52.60 42.4 52.60 43.6 V45.6 M53.00 45.6 V43.6 Q53.00 42.4 54.20 42.4 Q55.40 42.4 55.40 43.6 V45.6" fill="none" stroke="#5f921c" stroke-width="1.15"/><rect x="51.70" y="46.1" width="2.2" height="1.2" fill="#8fe020"/><rect x="50.00" y="47.6" width="5.4" height="1.6" fill="#3a3a3a"/><path d="M56.40 45.6 V43.6 Q56.40 42.4 57.60 42.4 Q58.80 42.4 58.80 43.6 V45.6 M59.20 45.6 V43.6 Q59.20 42.4 60.40 42.4 Q61.60 42.4 61.60 43.6 V45.6" fill="none" stroke="#5f921c" stroke-width="1.15"/><rect x="57.90" y="46.1" width="2.2" height="1.2" fill="#8fe020"/><rect x="56.20" y="47.6" width="5.4" height="1.6" fill="#3a3a3a"/><rect x="36.8" y="49.2" width="25.4" height="1" fill="#24400c"/><rect x="68.4" y="8.6" width="4" height="15.4" rx="1.6" fill="#2e2e2e"/><rect x="69.4" y="10.8" width="1.6" height="11" rx="0.8" fill="#6a6a6a"/><rect x="68.4" y="31.4" width="4" height="15.4" rx="1.6" fill="#2e2e2e"/><rect x="69.4" y="33.6" width="1.6" height="11" rx="0.8" fill="#6a6a6a"/></g><g transform="translate(118.2,459.6)"><rect x="0" y="0" width="70" height="55" fill="#b6b6b6" stroke="#646464" stroke-width="1.1"/><rect x="0.6" y="0.6" width="6" height="53.8" fill="#d0d0d0"/><rect x="2" y="3.6" width="0.8" height="6.1" fill="#8a8a8a"/><rect x="2.7" y="3.6" width="2.7" height="6.1" fill="#fff"/><rect x="2" y="16.7" width="0.8" height="6.1" fill="#8a8a8a"/><rect x="2.7" y="16.7" width="2.7" height="6.1" fill="#fff"/><rect x="2" y="29.8" width="0.8" height="6.1" fill="#8a8a8a"/><rect x="2.7" y="29.8" width="2.7" height="6.1" fill="#fff"/><rect x="2" y="42.6" width="0.8" height="6.1" fill="#8a8a8a"/><rect x="2.7" y="42.6" width="2.7" height="6.1" fill="#fff"/><rect x="5.9" y="0.6" width="0.8" height="53.8" fill="#808080"/><rect x="6.7" y="0.6" width="5.4" height="53.8" fill="#c2c2c2"/><rect x="0.6" y="52.4" width="68.8" height="2.2" fill="#7a7a7a"/><rect x="12.2" y="2.8" width="54.6" height="48.2" fill="#c9c9c9" stroke="#484848" stroke-width="1.15"/><rect x="14.2" y="3.8" width="11.4" height="7.8" fill="#f2f2f2" stroke="#3c3c3c" stroke-width="1.1"/><path d="M13.2 19 Q11.6 25.5 13.2 32.4" fill="none" stroke="#2c2c2c" stroke-width="0.8"/><rect x="14.2" y="35" width="11.4" height="7.4" fill="#f2f2f2" stroke="#3c3c3c" stroke-width="1.1"/><rect x="14.2" y="43.6" width="11.4" height="7" fill="#f2f2f2" stroke="#3c3c3c" stroke-width="1.1"/><text x="26.8" y="40.2" font-size="2.5" fill="#333" font-weight="bold" text-anchor="start" >IN</text><text x="26.8" y="48.4" font-size="2.5" fill="#333" font-weight="bold" text-anchor="start" >OUT</text><rect x="41.8" y="7.3" width="1.9" height="2.6" fill="#ff6a13"/><text x="44" y="9.9" font-size="3.2" fill="#f4f4f4" font-weight="bold" text-anchor="start" textLength="10" lengthAdjust="spacingAndGlyphs" stroke="#f4f4f4" stroke-width="0.3">ticino</text><text x="41.6" y="13.5" font-size="2.5" fill="#222" font-weight="bold" text-anchor="start" textLength="12.8" lengthAdjust="spacingAndGlyphs" font-style="italic">342 91 00 1</text><rect x="55.8" y="6.2" width="9.4" height="34.8" rx="0.8" fill="#d0d0d0" stroke="#4c4c4c" stroke-width="1"/><rect x="68.4" y="8.6" width="4" height="15.4" rx="1.6" fill="#2e2e2e"/><rect x="69.4" y="10.8" width="1.6" height="11" rx="0.8" fill="#6a6a6a"/><rect x="68.4" y="31.4" width="4" height="15.4" rx="1.6" fill="#2e2e2e"/><rect x="69.4" y="33.6" width="1.6" height="11" rx="0.8" fill="#6a6a6a"/></g><g transform="translate(118.2,514.6)"><rect x="0" y="0" width="70" height="55" fill="#b6b6b6" stroke="#646464" stroke-width="1.1"/><rect x="0.6" y="0.6" width="6" height="53.8" fill="#d0d0d0"/><rect x="2" y="3.6" width="0.8" height="6.1" fill="#8a8a8a"/><rect x="2.7" y="3.6" width="2.7" height="6.1" fill="#fff"/><rect x="2" y="16.7" width="0.8" height="6.1" fill="#8a8a8a"/><rect x="2.7" y="16.7" width="2.7" height="6.1" fill="#fff"/><rect x="2" y="29.8" width="0.8" height="6.1" fill="#8a8a8a"/><rect x="2.7" y="29.8" width="2.7" height="6.1" fill="#fff"/><rect x="2" y="42.6" width="0.8" height="6.1" fill="#8a8a8a"/><rect x="2.7" y="42.6" width="2.7" height="6.1" fill="#fff"/><rect x="5.9" y="0.6" width="0.8" height="53.8" fill="#808080"/><rect x="6.7" y="0.6" width="5.4" height="53.8" fill="#c2c2c2"/><rect x="0.6" y="52.4" width="68.8" height="2.2" fill="#7a7a7a"/><rect x="12.2" y="2.8" width="54.6" height="48.2" fill="#c9c9c9" stroke="#484848" stroke-width="1.15"/><rect x="14.2" y="3.8" width="11.4" height="7.8" fill="#f2f2f2" stroke="#3c3c3c" stroke-width="1.1"/><path d="M13.2 19 Q11.6 25.5 13.2 32.4" fill="none" stroke="#2c2c2c" stroke-width="0.8"/><rect x="14.2" y="35" width="11.4" height="7.4" fill="#f2f2f2" stroke="#3c3c3c" stroke-width="1.1"/><rect x="14.2" y="43.6" width="11.4" height="7" fill="#f2f2f2" stroke="#3c3c3c" stroke-width="1.1"/><text x="26.8" y="40.2" font-size="2.5" fill="#333" font-weight="bold" text-anchor="start" >IN</text><text x="26.8" y="48.4" font-size="2.5" fill="#333" font-weight="bold" text-anchor="start" >OUT</text><rect x="41.8" y="7.3" width="1.9" height="2.6" fill="#ff6a13"/><text x="44" y="9.9" font-size="3.2" fill="#f4f4f4" font-weight="bold" text-anchor="start" textLength="10" lengthAdjust="spacingAndGlyphs" stroke="#f4f4f4" stroke-width="0.3">ticino</text><text x="41.6" y="13.5" font-size="2.5" fill="#222" font-weight="bold" text-anchor="start" textLength="12.8" lengthAdjust="spacingAndGlyphs" font-style="italic">342 91 00 1</text><rect x="55.8" y="6.2" width="9.4" height="34.8" rx="0.8" fill="#d0d0d0" stroke="#4c4c4c" stroke-width="1"/><rect x="68.4" y="8.6" width="4" height="15.4" rx="1.6" fill="#2e2e2e"/><rect x="69.4" y="10.8" width="1.6" height="11" rx="0.8" fill="#6a6a6a"/><rect x="68.4" y="31.4" width="4" height="15.4" rx="1.6" fill="#2e2e2e"/><rect x="69.4" y="33.6" width="1.6" height="11" rx="0.8" fill="#6a6a6a"/></g><path d="M156.8 456 V571 Q156.8 574.8 160.6 574.8 H164" fill="none" stroke="#2f3c9e" stroke-width="1.1" stroke-linejoin="miter"/><path d="M159.6 456 V568.8 Q159.6 572.6 163.4 572.6 H166" fill="none" stroke="#8a4a10" stroke-width="1.1" stroke-linejoin="miter"/><rect x="135.20000000000002" y="451.8" width="3.1" height="49.19999999999999" fill="#222"/><rect x="138.3" y="451.8" width="1.3" height="49.19999999999999" fill="#e81010"/><rect x="135.20000000000002" y="507" width="3.1" height="49" fill="#222"/><rect x="138.3" y="507" width="1.3" height="49" fill="#e81010"/><path d="M178 455.8 Q178.4 460.6 184 460.7 H220.4 Q223.4 460.7 223.7 457.6 V455.4" fill="none" stroke="#111" stroke-width="1.9"/><path d="M175.2 455.8 Q175.2 462.8 183 462.8 H225 Q228.2 462.8 228.6 459 V455.4" fill="none" stroke="#e81010" stroke-width="1.4"/><g transform="translate(216.3,433.4)"><text x="0.8" y="-6.6" font-size="5.9" fill="#444" font-weight="bold" text-anchor="start" textLength="41" lengthAdjust="spacingAndGlyphs" stroke="#444" stroke-width="0.35">Pot.vrij contact</text><text x="0.8" y="-0.8" font-size="5.9" fill="#444" font-weight="bold" text-anchor="start" textLength="41" lengthAdjust="spacingAndGlyphs" stroke="#444" stroke-width="0.35">tbv deuropener</text><rect x="0" y="0" width="42.8" height="21.6" fill="#ff6a13" stroke="#7f7f7f" stroke-width="1.1"/><rect x="0.5" y="12.2" width="41.8" height="0.7" fill="#d85a10"/><rect x="0.8" y="5.4" width="1.2" height="3.4" fill="#c9926a"/><rect x="40.8" y="5.4" width="1.2" height="3.4" fill="#c9926a"/><text x="3.6" y="10.6" font-size="5.6" fill="#3a1c06" font-weight="normal" text-anchor="start" stroke="#3a1c06" stroke-width="0.2">S-</text><text x="12.6" y="10.6" font-size="5.6" fill="#3a1c06" font-weight="normal" text-anchor="start" stroke="#3a1c06" stroke-width="0.2">S+</text><text x="20.2" y="10.6" font-size="5.6" fill="#3a1c06" font-weight="normal" text-anchor="start" stroke="#3a1c06" stroke-width="0.2">C</text><text x="25.2" y="10.6" font-size="5.6" fill="#3a1c06" font-weight="normal" text-anchor="start" textLength="7.4" lengthAdjust="spacingAndGlyphs" stroke="#3a1c06" stroke-width="0.2">NC</text><text x="33.4" y="10.6" font-size="5.6" fill="#3a1c06" font-weight="normal" text-anchor="start" textLength="7.8" lengthAdjust="spacingAndGlyphs" stroke="#3a1c06" stroke-width="0.2">NO</text><circle cx="6.00" cy="16.5" r="2.6" fill="#f4f4f4" stroke="#6a4a34" stroke-width="0.6"/><path d="M4.50 16.5 H7.50 M6.00 15 V18" stroke="#111" stroke-width="1"/><circle cx="13.85" cy="16.5" r="2.6" fill="#f4f4f4" stroke="#6a4a34" stroke-width="0.6"/><path d="M12.35 16.5 H15.35 M13.85 15 V18" stroke="#111" stroke-width="1"/><circle cx="21.70" cy="16.5" r="2.6" fill="#f4f4f4" stroke="#6a4a34" stroke-width="0.6"/><path d="M20.20 16.5 H23.20 M21.70 15 V18" stroke="#111" stroke-width="1"/><circle cx="29.55" cy="16.5" r="2.6" fill="#f4f4f4" stroke="#6a4a34" stroke-width="0.6"/><path d="M28.05 16.5 H31.05 M29.55 15 V18" stroke="#111" stroke-width="1"/><circle cx="37.40" cy="16.5" r="2.6" fill="#f4f4f4" stroke="#6a4a34" stroke-width="0.6"/><path d="M35.90 16.5 H38.90 M37.40 15 V18" stroke="#111" stroke-width="1"/><rect x="9.8" y="21.6" width="3.2" height="1.6" fill="#8a8a8a"/><rect x="29" y="21.6" width="4" height="1.6" fill="#8a8a8a"/></g><path d="M143.8 390 Q142.4 406 140.2 426" fill="none" stroke="#2b3a8e" stroke-width="0.9"/><path d="M139 423.5 L140.1 426.6 L141.6 423.8" fill="none" stroke="#2b3a8e" stroke-width="0.8"/><g transform="translate(145.1,365)"><circle r="25.4" fill="#808080" stroke="#2b3a8e" stroke-width="1.3"/><rect x="-20.9" y="-12.4" width="41.1" height="11.4" fill="#fafafa" stroke="#222" stroke-width="0.6"/><path d="M-20.60 -12.2 L-18.44 -15.2 L-16.28 -12.2 V-1.2 L-18.44 0.9 L-20.60 -1.2 Z" fill="#fafafa" stroke="#333" stroke-width="0.4"/><path d="M-16.08 -12.2 L-13.92 -15.2 L-11.76 -12.2 V-1.2 L-13.92 0.9 L-16.08 -1.2 Z" fill="#fafafa" stroke="#333" stroke-width="0.4"/><path d="M-11.56 -12.2 L-9.40 -15.2 L-7.24 -12.2 V-1.2 L-9.40 0.9 L-11.56 -1.2 Z" fill="#fafafa" stroke="#333" stroke-width="0.4"/><path d="M-7.04 -12.2 L-4.88 -15.2 L-2.72 -12.2 V-1.2 L-4.88 0.9 L-7.04 -1.2 Z" fill="#fafafa" stroke="#333" stroke-width="0.4"/><path d="M-2.52 -12.2 L-0.36 -15.2 L1.80 -12.2 V-1.2 L-0.36 0.9 L-2.52 -1.2 Z" fill="#fafafa" stroke="#333" stroke-width="0.4"/><path d="M2.00 -12.2 L4.16 -15.2 L6.32 -12.2 V-1.2 L4.16 0.9 L2.00 -1.2 Z" fill="#fafafa" stroke="#333" stroke-width="0.4"/><path d="M6.52 -12.2 L8.68 -15.2 L10.84 -12.2 V-1.2 L8.68 0.9 L6.52 -1.2 Z" fill="#fafafa" stroke="#333" stroke-width="0.4"/><path d="M11.04 -12.2 L13.20 -15.2 L15.36 -12.2 V-1.2 L13.20 0.9 L11.04 -1.2 Z" fill="#fafafa" stroke="#333" stroke-width="0.4"/><path d="M15.56 -12.2 L17.72 -15.2 L19.88 -12.2 V-1.2 L17.72 0.9 L15.56 -1.2 Z" fill="#fafafa" stroke="#333" stroke-width="0.4"/><rect x="-20.20" y="-11.6" width="8.04" height="9.6" fill="#fafafa"/><rect x="-11.16" y="-11.6" width="8.04" height="9.6" fill="#fafafa"/><text x="-16.406" y="-4.2" font-size="4.9" fill="#111" font-weight="normal" text-anchor="middle" stroke="#111" stroke-width="0.25">P</text><text x="-7.366" y="-4.2" font-size="4.9" fill="#111" font-weight="normal" text-anchor="middle" stroke="#111" stroke-width="0.25">N</text><text x="-0.8120000000000012" y="-4.2" font-size="4.7" fill="#111" font-weight="normal" text-anchor="middle" stroke="#111" stroke-width="0.25">S</text><text x="3.8888" y="-4.2" font-size="4.7" fill="#111" font-weight="normal" text-anchor="middle" stroke="#111" stroke-width="0.25">T</text><text x="8.5896" y="-4.2" font-size="4.7" fill="#111" font-weight="normal" text-anchor="middle" stroke="#111" stroke-width="0.25">M</text><text x="12.974" y="-6.2" font-size="3.7" fill="#111" font-weight="normal" text-anchor="middle" stroke="#111" stroke-width="0.25">J</text><text x="13.425999999999998" y="-2.4" font-size="3.5" fill="#111" font-weight="normal" text-anchor="middle" stroke="#111" stroke-width="0.25">1</text><text x="17.493999999999996" y="-6.2" font-size="3.7" fill="#111" font-weight="normal" text-anchor="middle" stroke="#111" stroke-width="0.25">J</text><text x="17.946" y="-2.4" font-size="3.5" fill="#111" font-weight="normal" text-anchor="middle" stroke="#111" stroke-width="0.25">2</text><rect x="-19.50" y="0.5" width="2.1" height="1.2" fill="#000"/><rect x="-14.98" y="0.5" width="2.1" height="1.2" fill="#000"/><rect x="-10.46" y="0.5" width="2.1" height="1.2" fill="#000"/><rect x="-5.94" y="0.5" width="2.1" height="1.2" fill="#000"/><rect x="-1.42" y="0.5" width="2.1" height="1.2" fill="#000"/><rect x="3.10" y="0.5" width="2.1" height="1.2" fill="#000"/><rect x="7.62" y="0.5" width="2.1" height="1.2" fill="#000"/><rect x="12.14" y="0.5" width="2.1" height="1.2" fill="#000"/><rect x="16.66" y="0.5" width="2.1" height="1.2" fill="#000"/><rect x="-20.4" y="3" width="40" height="10" fill="#cfcfcf" stroke="#3c3c3c" stroke-width="0.9"/><rect x="-19.00" y="5.3" width="1" height="1" fill="#d4ffb0"/><rect x="-19.00" y="9.8" width="1" height="1" fill="#d4ffb0"/><rect x="-14.28" y="5.3" width="1" height="1" fill="#d4ffb0"/><rect x="-14.28" y="9.8" width="1" height="1" fill="#d4ffb0"/><rect x="-9.56" y="5.3" width="1" height="1" fill="#d4ffb0"/><rect x="-9.56" y="9.8" width="1" height="1" fill="#d4ffb0"/><rect x="-4.84" y="5.3" width="1" height="1" fill="#d4ffb0"/><rect x="-4.84" y="9.8" width="1" height="1" fill="#d4ffb0"/><rect x="-0.12" y="5.3" width="1" height="1" fill="#d4ffb0"/><rect x="-0.12" y="9.8" width="1" height="1" fill="#d4ffb0"/><rect x="4.60" y="5.3" width="1" height="1" fill="#d4ffb0"/><rect x="4.60" y="9.8" width="1" height="1" fill="#d4ffb0"/><rect x="9.32" y="5.3" width="1" height="1" fill="#d4ffb0"/><rect x="9.32" y="9.8" width="1" height="1" fill="#d4ffb0"/><rect x="14.04" y="5.3" width="1" height="1" fill="#d4ffb0"/><rect x="14.04" y="9.8" width="1" height="1" fill="#d4ffb0"/><rect x="18.76" y="5.3" width="1" height="1" fill="#d4ffb0"/><rect x="18.76" y="9.8" width="1" height="1" fill="#d4ffb0"/><rect x="-17.40" y="4.4" width="4.5" height="7.7" rx="1.7" fill="#22b122"/><text x="-15.149999999999999" y="11.1" font-size="4.6" fill="#baf0a0" font-weight="bold" text-anchor="middle" >0</text><rect x="-7.90" y="4.4" width="4.5" height="7.7" rx="1.7" fill="#22b122"/><text x="-5.65" y="11.1" font-size="4.6" fill="#baf0a0" font-weight="bold" text-anchor="middle" >1</text><rect x="15.7" y="4.2" width="3.7" height="7.9" rx="1.2" fill="#2fb82f"/><text x="17.55" y="11.2" font-size="7" fill="#b4f0a0" font-weight="bold" text-anchor="middle" textLength="3.2" lengthAdjust="spacingAndGlyphs" >3</text></g><text x="125.6" y="403" font-size="6.2" fill="#4a4a4a" font-weight="bold" text-anchor="start" textLength="60.6" lengthAdjust="spacingAndGlyphs" stroke="#4a4a4a" stroke-width="0.9">BUITENPOST 8-48TV</text><text x="86.5" y="409.2" font-size="5.8" fill="#555" font-weight="bold" text-anchor="middle" textLength="36.5" lengthAdjust="spacingAndGlyphs" stroke="#555" stroke-width="0.55">BUITENPOST</text><text x="86.8" y="415.1" font-size="5.8" fill="#555" font-weight="bold" text-anchor="middle" textLength="20.6" lengthAdjust="spacingAndGlyphs" stroke="#555" stroke-width="0.55">KELDER</text><text x="86.2" y="440" font-size="6" fill="#ff0000" font-weight="bold" text-anchor="middle" textLength="53" lengthAdjust="spacingAndGlyphs" stroke="#ff0000" stroke-width="0.35">DEZE BUITENPOST</text><text x="86.2" y="446" font-size="6" fill="#ff0000" font-weight="bold" text-anchor="middle" textLength="4.2" lengthAdjust="spacingAndGlyphs" stroke="#ff0000" stroke-width="0.35">IS</text><text x="86.2" y="453" font-size="6" fill="#ff0000" font-weight="bold" text-anchor="middle" textLength="51.6" lengthAdjust="spacingAndGlyphs" stroke="#ff0000" stroke-width="0.35">SOFTWAREMATIG</text><text x="86.2" y="459.4" font-size="6" fill="#ff0000" font-weight="bold" text-anchor="middle" textLength="60" lengthAdjust="spacingAndGlyphs" stroke="#ff0000" stroke-width="0.35">GEPROGRAMMEERD!</text><path d="M191.2 477.8 L139.6 507.2" stroke="#ff6a13" stroke-width="0.8" fill="none"/><path d="M142 503.8 L139.4 507.4 L143.6 506.8" stroke="#ff6a13" stroke-width="0.8" fill="none"/><text x="192.60000000000002" y="480.6" font-size="6.3" fill="#ff6a13" font-weight="bold" text-anchor="start" textLength="69.6" lengthAdjust="spacingAndGlyphs" font-style="italic" stroke="#ff6a13" stroke-width="0.35">Haal de spanning van het</text><text x="190.3" y="487.05" font-size="6.3" fill="#ff6a13" font-weight="bold" text-anchor="start" textLength="72.5" lengthAdjust="spacingAndGlyphs" font-style="italic" stroke="#ff6a13" stroke-width="0.35">systeem als je een module</text><text x="195.0" y="493.5" font-size="6.3" fill="#ff6a13" font-weight="bold" text-anchor="start" textLength="63.6" lengthAdjust="spacingAndGlyphs" font-style="italic" stroke="#ff6a13" stroke-width="0.35">monteert of demonteert</text><text x="236" y="571.4" font-size="5.6" fill="#2f3c9e" font-weight="bold" text-anchor="start" textLength="43" lengthAdjust="spacingAndGlyphs" font-style="italic" stroke="#2f3c9e" stroke-width="0.3">Max. 40 meter</text></g>
<g id="apts"><g transform="translate(485.4,169.4)"><rect x="0" y="0" width="50.2" height="50.2" fill="#fff" stroke="#000" stroke-width="1"/><path d="M13.8 7.4 H11.4 Q5.4 7.4 5.4 13.6 V50.2" fill="none" stroke="#949cda" stroke-width="1.3"/><path d="M13.8 12.2 H12.2 Q7.6 12.2 7.6 17 V50.2" fill="none" stroke="#d6a672" stroke-width="1.3"/><rect x="13.8" y="4.8" width="11.6" height="20.4" fill="#fff" stroke="#1a1a1a" stroke-width="0.9"/><rect x="14.2" y="5.2" width="5.4" height="19.6" fill="#1c7a22"/><path d="M19.8 4.8 V25.2 M19.8 15 H25.4" stroke="#1a1a1a" stroke-width="0.8"/><circle cx="16.9" cy="7.5" r="1.9" fill="#0c2a0c"/><path d="M15.9 8.6 L17.9 6.4" stroke="#fff" stroke-width="1.3" stroke-linecap="round"/><circle cx="16.9" cy="12.5" r="1.9" fill="#0c2a0c"/><path d="M15.9 13.6 L17.9 11.4" stroke="#fff" stroke-width="1.3" stroke-linecap="round"/><circle cx="16.9" cy="17.5" r="1.9" fill="#0c2a0c"/><path d="M15.9 18.6 L17.9 16.4" stroke="#fff" stroke-width="1.3" stroke-linecap="round"/><circle cx="16.9" cy="22.5" r="1.9" fill="#0c2a0c"/><path d="M15.9 23.6 L17.9 21.4" stroke="#fff" stroke-width="1.3" stroke-linecap="round"/><text transform="translate(24.2,13.9) rotate(-90)" font-size="3.7" font-weight="bold" fill="#111">BUS</text><path d="M21 19.5 H22.6 V22.4 M22.6 17.2 V19.5 L24.3 21 M21.2 22.4 H24" fill="none" stroke="#222" stroke-width="0.7"/><rect x="31.8" y="4.8" width="16.6" height="16.2" fill="#e6e6e6" stroke="#4c4c4c" stroke-width="0.9"/><rect x="33.9" y="6.4" width="12.4" height="7.8" fill="#cbe5fa" stroke="#3a3a3a" stroke-width="0.9"/><rect x="32.4" y="15.7" width="15.4" height="1" fill="#6e6e6e"/><rect x="32.4" y="17.6" width="15.4" height="0.8" fill="#a8a8a8"/><rect x="32.4" y="19.2" width="15.4" height="0.7" fill="#c4c4c4"/><rect x="24" y="34.400000000000006" width="25" height="15.3" fill="#fff" stroke="#707070" stroke-width="1.1"/><path d="M24 40.400000000000006 H49 M36.5 34.400000000000006 V49.7 M30.3 40.400000000000006 V49.7 M42.8 40.400000000000006 V49.7" stroke="#707070" stroke-width="1" fill="none"/><text x="30.3" y="39.7" font-size="5" fill="#000" font-weight="normal" text-anchor="middle" stroke="#000" stroke-width="0.3">N</text><text x="42.8" y="39.7" font-size="5" fill="#444" font-weight="normal" text-anchor="middle" >P</text><rect x="31.00" y="41.00000000000001" width="5.2" height="8.2" rx="1.3" fill="#2db52d"/><text x="33.6" y="47.900000000000006" font-size="5.4" fill="#fff" font-weight="normal" text-anchor="middle" stroke="#fff" stroke-width="0.15">4</text><text x="9.799999999999999" y="43.2" font-size="2.9" fill="#333" font-weight="bold" text-anchor="start" textLength="6.4" lengthAdjust="spacingAndGlyphs" >OFF</text><text x="16.8" y="43.2" font-size="2.9" fill="#e00000" font-weight="bold" text-anchor="start" textLength="5.4" lengthAdjust="spacingAndGlyphs" >ON</text><rect x="9.6" y="43.7" width="13" height="4.2" fill="#fff" stroke="#111" stroke-width="0.9"/><rect x="18.4" y="44.1" width="3.8" height="3.4" fill="#d40000"/><rect x="19.2" y="45.0" width="1.6" height="1.6" fill="#400"/></g><g transform="translate(485.4,219.5)"><rect x="0" y="0" width="50.2" height="50.2" fill="#fff" stroke="#000" stroke-width="1"/><path d="M5.4 0 V2.4 Q5.4 7.2 10.0 7.2 H13.8" fill="none" stroke="#949cda" stroke-width="1.3"/><path d="M13.8 7.6 H10.0 Q5.4 7.8 5.4 13 V50.2" fill="none" stroke="#949cda" stroke-width="1.3"/><path d="M7.6 0 V8 Q7.6 12 11.399999999999999 12 H13.8" fill="none" stroke="#d6a672" stroke-width="1.3"/><path d="M13.8 12.4 H11.399999999999999 Q7.6 12.6 7.6 16.8 V50.2" fill="none" stroke="#d6a672" stroke-width="1.3"/><path d="M10.4 7.4 H13.8" fill="none" stroke="#7a84d0" stroke-width="1.3"/><path d="M11.6 12.2 H13.8" fill="none" stroke="#c98d54" stroke-width="1.3"/><rect x="13.8" y="4.8" width="11.6" height="20.4" fill="#fff" stroke="#1a1a1a" stroke-width="0.9"/><rect x="14.2" y="5.2" width="5.4" height="19.6" fill="#1c7a22"/><path d="M19.8 4.8 V25.2 M19.8 15 H25.4" stroke="#1a1a1a" stroke-width="0.8"/><circle cx="16.9" cy="7.5" r="1.9" fill="#0c2a0c"/><path d="M15.9 8.6 L17.9 6.4" stroke="#fff" stroke-width="1.3" stroke-linecap="round"/><circle cx="16.9" cy="12.5" r="1.9" fill="#0c2a0c"/><path d="M15.9 13.6 L17.9 11.4" stroke="#fff" stroke-width="1.3" stroke-linecap="round"/><circle cx="16.9" cy="17.5" r="1.9" fill="#0c2a0c"/><path d="M15.9 18.6 L17.9 16.4" stroke="#fff" stroke-width="1.3" stroke-linecap="round"/><circle cx="16.9" cy="22.5" r="1.9" fill="#0c2a0c"/><path d="M15.9 23.6 L17.9 21.4" stroke="#fff" stroke-width="1.3" stroke-linecap="round"/><text transform="translate(24.2,13.9) rotate(-90)" font-size="3.7" font-weight="bold" fill="#111">BUS</text><path d="M21 19.5 H22.6 V22.4 M22.6 17.2 V19.5 L24.3 21 M21.2 22.4 H24" fill="none" stroke="#222" stroke-width="0.7"/><rect x="31.8" y="4.8" width="16.6" height="16.2" fill="#e6e6e6" stroke="#4c4c4c" stroke-width="0.9"/><rect x="33.9" y="6.4" width="12.4" height="7.8" fill="#cbe5fa" stroke="#3a3a3a" stroke-width="0.9"/><rect x="32.4" y="15.7" width="15.4" height="1" fill="#6e6e6e"/><rect x="32.4" y="17.6" width="15.4" height="0.8" fill="#a8a8a8"/><rect x="32.4" y="19.2" width="15.4" height="0.7" fill="#c4c4c4"/><rect x="24" y="34.400000000000006" width="25" height="15.3" fill="#fff" stroke="#707070" stroke-width="1.1"/><path d="M24 40.400000000000006 H49 M36.5 34.400000000000006 V49.7 M30.3 40.400000000000006 V49.7 M42.8 40.400000000000006 V49.7" stroke="#707070" stroke-width="1" fill="none"/><text x="30.3" y="39.7" font-size="5" fill="#000" font-weight="normal" text-anchor="middle" stroke="#000" stroke-width="0.3">N</text><text x="42.8" y="39.7" font-size="5" fill="#444" font-weight="normal" text-anchor="middle" >P</text><rect x="31.00" y="41.00000000000001" width="5.2" height="8.2" rx="1.3" fill="#2db52d"/><text x="33.6" y="47.900000000000006" font-size="5.4" fill="#fff" font-weight="normal" text-anchor="middle" stroke="#fff" stroke-width="0.15">3</text><text x="9.799999999999999" y="43.2" font-size="2.9" fill="#333" font-weight="bold" text-anchor="start" textLength="6.4" lengthAdjust="spacingAndGlyphs" >OFF</text><text x="16.8" y="43.2" font-size="2.9" fill="#555" font-weight="bold" text-anchor="start" textLength="5.4" lengthAdjust="spacingAndGlyphs" >ON</text><rect x="9.6" y="43.7" width="13" height="4.2" fill="#fff" stroke="#111" stroke-width="0.9"/><rect x="10.0" y="44.1" width="4" height="3.4" fill="#111"/><rect x="11.0" y="45.1" width="1.4" height="1.4" fill="#888"/></g><g transform="translate(485.4,269.7)"><rect x="0" y="0" width="50.2" height="50.2" fill="#fff" stroke="#000" stroke-width="1"/><path d="M5.4 0 V2.4 Q5.4 7.2 10.0 7.2 H13.8" fill="none" stroke="#949cda" stroke-width="1.3"/><path d="M13.8 7.6 H10.0 Q5.4 7.8 5.4 13 V50.2" fill="none" stroke="#949cda" stroke-width="1.3"/><path d="M7.6 0 V8 Q7.6 12 11.399999999999999 12 H13.8" fill="none" stroke="#d6a672" stroke-width="1.3"/><path d="M13.8 12.4 H11.399999999999999 Q7.6 12.6 7.6 16.8 V50.2" fill="none" stroke="#d6a672" stroke-width="1.3"/><path d="M10.4 7.4 H13.8" fill="none" stroke="#7a84d0" stroke-width="1.3"/><path d="M11.6 12.2 H13.8" fill="none" stroke="#c98d54" stroke-width="1.3"/><rect x="13.8" y="4.8" width="11.6" height="20.4" fill="#fff" stroke="#1a1a1a" stroke-width="0.9"/><rect x="14.2" y="5.2" width="5.4" height="19.6" fill="#1c7a22"/><path d="M19.8 4.8 V25.2 M19.8 15 H25.4" stroke="#1a1a1a" stroke-width="0.8"/><circle cx="16.9" cy="7.5" r="1.9" fill="#0c2a0c"/><path d="M15.9 8.6 L17.9 6.4" stroke="#fff" stroke-width="1.3" stroke-linecap="round"/><circle cx="16.9" cy="12.5" r="1.9" fill="#0c2a0c"/><path d="M15.9 13.6 L17.9 11.4" stroke="#fff" stroke-width="1.3" stroke-linecap="round"/><circle cx="16.9" cy="17.5" r="1.9" fill="#0c2a0c"/><path d="M15.9 18.6 L17.9 16.4" stroke="#fff" stroke-width="1.3" stroke-linecap="round"/><circle cx="16.9" cy="22.5" r="1.9" fill="#0c2a0c"/><path d="M15.9 23.6 L17.9 21.4" stroke="#fff" stroke-width="1.3" stroke-linecap="round"/><text transform="translate(24.2,13.9) rotate(-90)" font-size="3.7" font-weight="bold" fill="#111">BUS</text><path d="M21 19.5 H22.6 V22.4 M22.6 17.2 V19.5 L24.3 21 M21.2 22.4 H24" fill="none" stroke="#222" stroke-width="0.7"/><rect x="31.8" y="4.8" width="16.6" height="16.2" fill="#e6e6e6" stroke="#4c4c4c" stroke-width="0.9"/><rect x="33.9" y="6.4" width="12.4" height="7.8" fill="#cbe5fa" stroke="#3a3a3a" stroke-width="0.9"/><rect x="32.4" y="15.7" width="15.4" height="1" fill="#6e6e6e"/><rect x="32.4" y="17.6" width="15.4" height="0.8" fill="#a8a8a8"/><rect x="32.4" y="19.2" width="15.4" height="0.7" fill="#c4c4c4"/><rect x="24" y="34.400000000000006" width="25" height="15.3" fill="#fff" stroke="#707070" stroke-width="1.1"/><path d="M24 40.400000000000006 H49 M36.5 34.400000000000006 V49.7 M30.3 40.400000000000006 V49.7 M42.8 40.400000000000006 V49.7" stroke="#707070" stroke-width="1" fill="none"/><text x="30.3" y="39.7" font-size="5" fill="#000" font-weight="normal" text-anchor="middle" stroke="#000" stroke-width="0.3">N</text><text x="42.8" y="39.7" font-size="5" fill="#444" font-weight="normal" text-anchor="middle" >P</text><rect x="31.00" y="41.00000000000001" width="5.2" height="8.2" rx="1.3" fill="#2db52d"/><text x="33.6" y="47.900000000000006" font-size="5.4" fill="#fff" font-weight="normal" text-anchor="middle" stroke="#fff" stroke-width="0.15">2</text><text x="9.799999999999999" y="43.2" font-size="2.9" fill="#333" font-weight="bold" text-anchor="start" textLength="6.4" lengthAdjust="spacingAndGlyphs" >OFF</text><text x="16.8" y="43.2" font-size="2.9" fill="#555" font-weight="bold" text-anchor="start" textLength="5.4" lengthAdjust="spacingAndGlyphs" >ON</text><rect x="9.6" y="43.7" width="13" height="4.2" fill="#fff" stroke="#111" stroke-width="0.9"/><rect x="10.0" y="44.1" width="4" height="3.4" fill="#111"/><rect x="11.0" y="45.1" width="1.4" height="1.4" fill="#888"/></g><g transform="translate(485.4,319.9)"><rect x="0" y="0" width="50.2" height="50.2" fill="#fff" stroke="#000" stroke-width="1"/><path d="M5.4 0 V2.4 Q5.4 7.2 10.0 7.2 H13.8" fill="none" stroke="#949cda" stroke-width="1.3"/><path d="M13.8 7.6 H10.0 Q5.4 7.8 5.4 13 V50.2" fill="none" stroke="#949cda" stroke-width="1.3"/><path d="M7.6 0 V8 Q7.6 12 11.399999999999999 12 H13.8" fill="none" stroke="#d6a672" stroke-width="1.3"/><path d="M13.8 12.4 H11.399999999999999 Q7.6 12.6 7.6 16.8 V50.2" fill="none" stroke="#d6a672" stroke-width="1.3"/><path d="M10.4 7.4 H13.8" fill="none" stroke="#7a84d0" stroke-width="1.3"/><path d="M11.6 12.2 H13.8" fill="none" stroke="#c98d54" stroke-width="1.3"/><rect x="13.8" y="4.8" width="11.6" height="20.4" fill="#fff" stroke="#1a1a1a" stroke-width="0.9"/><rect x="14.2" y="5.2" width="5.4" height="19.6" fill="#1c7a22"/><path d="M19.8 4.8 V25.2 M19.8 15 H25.4" stroke="#1a1a1a" stroke-width="0.8"/><circle cx="16.9" cy="7.5" r="1.9" fill="#0c2a0c"/><path d="M15.9 8.6 L17.9 6.4" stroke="#fff" stroke-width="1.3" stroke-linecap="round"/><circle cx="16.9" cy="12.5" r="1.9" fill="#0c2a0c"/><path d="M15.9 13.6 L17.9 11.4" stroke="#fff" stroke-width="1.3" stroke-linecap="round"/><circle cx="16.9" cy="17.5" r="1.9" fill="#0c2a0c"/><path d="M15.9 18.6 L17.9 16.4" stroke="#fff" stroke-width="1.3" stroke-linecap="round"/><circle cx="16.9" cy="22.5" r="1.9" fill="#0c2a0c"/><path d="M15.9 23.6 L17.9 21.4" stroke="#fff" stroke-width="1.3" stroke-linecap="round"/><text transform="translate(24.2,13.9) rotate(-90)" font-size="3.7" font-weight="bold" fill="#111">BUS</text><path d="M21 19.5 H22.6 V22.4 M22.6 17.2 V19.5 L24.3 21 M21.2 22.4 H24" fill="none" stroke="#222" stroke-width="0.7"/><rect x="31.8" y="4.8" width="16.6" height="16.2" fill="#e6e6e6" stroke="#4c4c4c" stroke-width="0.9"/><rect x="33.9" y="6.4" width="12.4" height="7.8" fill="#cbe5fa" stroke="#3a3a3a" stroke-width="0.9"/><rect x="32.4" y="15.7" width="15.4" height="1" fill="#6e6e6e"/><rect x="32.4" y="17.6" width="15.4" height="0.8" fill="#a8a8a8"/><rect x="32.4" y="19.2" width="15.4" height="0.7" fill="#c4c4c4"/><rect x="24" y="34.400000000000006" width="25" height="15.3" fill="#fff" stroke="#707070" stroke-width="1.1"/><path d="M24 40.400000000000006 H49 M36.5 34.400000000000006 V49.7 M30.3 40.400000000000006 V49.7 M42.8 40.400000000000006 V49.7" stroke="#707070" stroke-width="1" fill="none"/><text x="30.3" y="39.7" font-size="5" fill="#000" font-weight="normal" text-anchor="middle" stroke="#000" stroke-width="0.3">N</text><text x="42.8" y="39.7" font-size="5" fill="#444" font-weight="normal" text-anchor="middle" >P</text><rect x="31.00" y="41.00000000000001" width="5.2" height="8.2" rx="1.3" fill="#2db52d"/><text x="33.6" y="47.900000000000006" font-size="5.4" fill="#fff" font-weight="normal" text-anchor="middle" stroke="#fff" stroke-width="0.15">1</text><text x="9.799999999999999" y="43.2" font-size="2.9" fill="#333" font-weight="bold" text-anchor="start" textLength="6.4" lengthAdjust="spacingAndGlyphs" >OFF</text><text x="16.8" y="43.2" font-size="2.9" fill="#555" font-weight="bold" text-anchor="start" textLength="5.4" lengthAdjust="spacingAndGlyphs" >ON</text><rect x="9.6" y="43.7" width="13" height="4.2" fill="#fff" stroke="#111" stroke-width="0.9"/><rect x="10.0" y="44.1" width="4" height="3.4" fill="#111"/><rect x="11.0" y="45.1" width="1.4" height="1.4" fill="#888"/></g><g transform="translate(535.6,169.4)"><rect x="0" y="0" width="50.8" height="50.2" fill="#fff" stroke="#000" stroke-width="1"/><path d="M5.4 0 V2.4 Q5.4 7.2 10.0 7.2 H13.8" fill="none" stroke="#949cda" stroke-width="1.3"/><path d="M13.8 7.6 H10.0 Q5.4 7.8 5.4 13 V50.2" fill="none" stroke="#949cda" stroke-width="1.3"/><path d="M7.6 0 V8 Q7.6 12 11.399999999999999 12 H13.8" fill="none" stroke="#d6a672" stroke-width="1.3"/><path d="M13.8 12.4 H11.399999999999999 Q7.6 12.6 7.6 16.8 V50.2" fill="none" stroke="#d6a672" stroke-width="1.3"/><path d="M10.4 7.4 H13.8" fill="none" stroke="#7a84d0" stroke-width="1.3"/><path d="M11.6 12.2 H13.8" fill="none" stroke="#c98d54" stroke-width="1.3"/><rect x="13.8" y="4.8" width="11.6" height="20.4" fill="#fff" stroke="#1a1a1a" stroke-width="0.9"/><rect x="14.2" y="5.2" width="5.4" height="19.6" fill="#1c7a22"/><path d="M19.8 4.8 V25.2 M19.8 15 H25.4" stroke="#1a1a1a" stroke-width="0.8"/><circle cx="16.9" cy="7.5" r="1.9" fill="#0c2a0c"/><path d="M15.9 8.6 L17.9 6.4" stroke="#fff" stroke-width="1.3" stroke-linecap="round"/><circle cx="16.9" cy="12.5" r="1.9" fill="#0c2a0c"/><path d="M15.9 13.6 L17.9 11.4" stroke="#fff" stroke-width="1.3" stroke-linecap="round"/><circle cx="16.9" cy="17.5" r="1.9" fill="#0c2a0c"/><path d="M15.9 18.6 L17.9 16.4" stroke="#fff" stroke-width="1.3" stroke-linecap="round"/><circle cx="16.9" cy="22.5" r="1.9" fill="#0c2a0c"/><path d="M15.9 23.6 L17.9 21.4" stroke="#fff" stroke-width="1.3" stroke-linecap="round"/><text transform="translate(24.2,13.9) rotate(-90)" font-size="3.7" font-weight="bold" fill="#111">BUS</text><path d="M21 19.5 H22.6 V22.4 M22.6 17.2 V19.5 L24.3 21 M21.2 22.4 H24" fill="none" stroke="#222" stroke-width="0.7"/><rect x="31.8" y="4.8" width="16.6" height="16.2" fill="#e6e6e6" stroke="#4c4c4c" stroke-width="0.9"/><rect x="33.9" y="6.4" width="12.4" height="7.8" fill="#cbe5fa" stroke="#3a3a3a" stroke-width="0.9"/><rect x="32.4" y="15.7" width="15.4" height="1" fill="#6e6e6e"/><rect x="32.4" y="17.6" width="15.4" height="0.8" fill="#a8a8a8"/><rect x="32.4" y="19.2" width="15.4" height="0.7" fill="#c4c4c4"/><rect x="24" y="34.400000000000006" width="25" height="15.3" fill="#fff" stroke="#707070" stroke-width="1.1"/><path d="M24 40.400000000000006 H49 M36.5 34.400000000000006 V49.7 M30.3 40.400000000000006 V49.7 M42.8 40.400000000000006 V49.7" stroke="#707070" stroke-width="1" fill="none"/><text x="30.3" y="39.7" font-size="5" fill="#000" font-weight="normal" text-anchor="middle" stroke="#000" stroke-width="0.3">N</text><text x="42.8" y="39.7" font-size="5" fill="#444" font-weight="normal" text-anchor="middle" >P</text><rect x="31.00" y="41.00000000000001" width="5.2" height="8.2" rx="1.3" fill="#2db52d"/><text x="33.6" y="47.900000000000006" font-size="5.4" fill="#fff" font-weight="normal" text-anchor="middle" stroke="#fff" stroke-width="0.15">8</text><text x="9.799999999999999" y="43.2" font-size="2.9" fill="#333" font-weight="bold" text-anchor="start" textLength="6.4" lengthAdjust="spacingAndGlyphs" >OFF</text><text x="16.8" y="43.2" font-size="2.9" fill="#555" font-weight="bold" text-anchor="start" textLength="5.4" lengthAdjust="spacingAndGlyphs" >ON</text><rect x="9.6" y="43.7" width="13" height="4.2" fill="#fff" stroke="#111" stroke-width="0.9"/><rect x="10.0" y="44.1" width="4" height="3.4" fill="#111"/><rect x="11.0" y="45.1" width="1.4" height="1.4" fill="#888"/></g><g transform="translate(535.6,219.5)"><rect x="0" y="0" width="50.8" height="50.2" fill="#fff" stroke="#000" stroke-width="1"/><path d="M5.4 0 V2.4 Q5.4 7.2 10.0 7.2 H13.8" fill="none" stroke="#949cda" stroke-width="1.3"/><path d="M13.8 7.6 H10.0 Q5.4 7.8 5.4 13 V50.2" fill="none" stroke="#949cda" stroke-width="1.3"/><path d="M7.6 0 V8 Q7.6 12 11.399999999999999 12 H13.8" fill="none" stroke="#d6a672" stroke-width="1.3"/><path d="M13.8 12.4 H11.399999999999999 Q7.6 12.6 7.6 16.8 V50.2" fill="none" stroke="#d6a672" stroke-width="1.3"/><path d="M10.4 7.4 H13.8" fill="none" stroke="#7a84d0" stroke-width="1.3"/><path d="M11.6 12.2 H13.8" fill="none" stroke="#c98d54" stroke-width="1.3"/><rect x="13.8" y="4.8" width="11.6" height="20.4" fill="#fff" stroke="#1a1a1a" stroke-width="0.9"/><rect x="14.2" y="5.2" width="5.4" height="19.6" fill="#1c7a22"/><path d="M19.8 4.8 V25.2 M19.8 15 H25.4" stroke="#1a1a1a" stroke-width="0.8"/><circle cx="16.9" cy="7.5" r="1.9" fill="#0c2a0c"/><path d="M15.9 8.6 L17.9 6.4" stroke="#fff" stroke-width="1.3" stroke-linecap="round"/><circle cx="16.9" cy="12.5" r="1.9" fill="#0c2a0c"/><path d="M15.9 13.6 L17.9 11.4" stroke="#fff" stroke-width="1.3" stroke-linecap="round"/><circle cx="16.9" cy="17.5" r="1.9" fill="#0c2a0c"/><path d="M15.9 18.6 L17.9 16.4" stroke="#fff" stroke-width="1.3" stroke-linecap="round"/><circle cx="16.9" cy="22.5" r="1.9" fill="#0c2a0c"/><path d="M15.9 23.6 L17.9 21.4" stroke="#fff" stroke-width="1.3" stroke-linecap="round"/><text transform="translate(24.2,13.9) rotate(-90)" font-size="3.7" font-weight="bold" fill="#111">BUS</text><path d="M21 19.5 H22.6 V22.4 M22.6 17.2 V19.5 L24.3 21 M21.2 22.4 H24" fill="none" stroke="#222" stroke-width="0.7"/><rect x="31.8" y="4.8" width="16.6" height="16.2" fill="#e6e6e6" stroke="#4c4c4c" stroke-width="0.9"/><rect x="33.9" y="6.4" width="12.4" height="7.8" fill="#cbe5fa" stroke="#3a3a3a" stroke-width="0.9"/><rect x="32.4" y="15.7" width="15.4" height="1" fill="#6e6e6e"/><rect x="32.4" y="17.6" width="15.4" height="0.8" fill="#a8a8a8"/><rect x="32.4" y="19.2" width="15.4" height="0.7" fill="#c4c4c4"/><rect x="24" y="34.400000000000006" width="25" height="15.3" fill="#fff" stroke="#707070" stroke-width="1.1"/><path d="M24 40.400000000000006 H49 M36.5 34.400000000000006 V49.7 M30.3 40.400000000000006 V49.7 M42.8 40.400000000000006 V49.7" stroke="#707070" stroke-width="1" fill="none"/><text x="30.3" y="39.7" font-size="5" fill="#000" font-weight="normal" text-anchor="middle" stroke="#000" stroke-width="0.3">N</text><text x="42.8" y="39.7" font-size="5" fill="#444" font-weight="normal" text-anchor="middle" >P</text><rect x="31.00" y="41.00000000000001" width="5.2" height="8.2" rx="1.3" fill="#2db52d"/><text x="33.6" y="47.900000000000006" font-size="5.4" fill="#fff" font-weight="normal" text-anchor="middle" stroke="#fff" stroke-width="0.15">7</text><text x="9.799999999999999" y="43.2" font-size="2.9" fill="#333" font-weight="bold" text-anchor="start" textLength="6.4" lengthAdjust="spacingAndGlyphs" >OFF</text><text x="16.8" y="43.2" font-size="2.9" fill="#555" font-weight="bold" text-anchor="start" textLength="5.4" lengthAdjust="spacingAndGlyphs" >ON</text><rect x="9.6" y="43.7" width="13" height="4.2" fill="#fff" stroke="#111" stroke-width="0.9"/><rect x="10.0" y="44.1" width="4" height="3.4" fill="#111"/><rect x="11.0" y="45.1" width="1.4" height="1.4" fill="#888"/></g><g transform="translate(535.6,269.7)"><rect x="0" y="0" width="50.8" height="50.2" fill="#fff" stroke="#000" stroke-width="1"/><path d="M5.4 0 V2.4 Q5.4 7.2 10.0 7.2 H13.8" fill="none" stroke="#949cda" stroke-width="1.3"/><path d="M13.8 7.6 H10.0 Q5.4 7.8 5.4 13 V50.2" fill="none" stroke="#949cda" stroke-width="1.3"/><path d="M7.6 0 V8 Q7.6 12 11.399999999999999 12 H13.8" fill="none" stroke="#d6a672" stroke-width="1.3"/><path d="M13.8 12.4 H11.399999999999999 Q7.6 12.6 7.6 16.8 V50.2" fill="none" stroke="#d6a672" stroke-width="1.3"/><path d="M10.4 7.4 H13.8" fill="none" stroke="#7a84d0" stroke-width="1.3"/><path d="M11.6 12.2 H13.8" fill="none" stroke="#c98d54" stroke-width="1.3"/><rect x="13.8" y="4.8" width="11.6" height="20.4" fill="#fff" stroke="#1a1a1a" stroke-width="0.9"/><rect x="14.2" y="5.2" width="5.4" height="19.6" fill="#1c7a22"/><path d="M19.8 4.8 V25.2 M19.8 15 H25.4" stroke="#1a1a1a" stroke-width="0.8"/><circle cx="16.9" cy="7.5" r="1.9" fill="#0c2a0c"/><path d="M15.9 8.6 L17.9 6.4" stroke="#fff" stroke-width="1.3" stroke-linecap="round"/><circle cx="16.9" cy="12.5" r="1.9" fill="#0c2a0c"/><path d="M15.9 13.6 L17.9 11.4" stroke="#fff" stroke-width="1.3" stroke-linecap="round"/><circle cx="16.9" cy="17.5" r="1.9" fill="#0c2a0c"/><path d="M15.9 18.6 L17.9 16.4" stroke="#fff" stroke-width="1.3" stroke-linecap="round"/><circle cx="16.9" cy="22.5" r="1.9" fill="#0c2a0c"/><path d="M15.9 23.6 L17.9 21.4" stroke="#fff" stroke-width="1.3" stroke-linecap="round"/><text transform="translate(24.2,13.9) rotate(-90)" font-size="3.7" font-weight="bold" fill="#111">BUS</text><path d="M21 19.5 H22.6 V22.4 M22.6 17.2 V19.5 L24.3 21 M21.2 22.4 H24" fill="none" stroke="#222" stroke-width="0.7"/><rect x="31.8" y="4.8" width="16.6" height="16.2" fill="#e6e6e6" stroke="#4c4c4c" stroke-width="0.9"/><rect x="33.9" y="6.4" width="12.4" height="7.8" fill="#3848a8" stroke="#3a3a3a" stroke-width="0.9"/><text x="40.1" y="12.4" font-size="5.2" fill="#fff" font-weight="normal" text-anchor="middle" >W</text><rect x="32.4" y="15.7" width="15.4" height="1" fill="#6e6e6e"/><rect x="32.4" y="17.6" width="15.4" height="0.8" fill="#a8a8a8"/><rect x="32.4" y="19.2" width="15.4" height="0.7" fill="#c4c4c4"/><rect x="24" y="34.400000000000006" width="25" height="15.3" fill="#fff" stroke="#707070" stroke-width="1.1"/><path d="M24 40.400000000000006 H49 M36.5 34.400000000000006 V49.7 M30.3 40.400000000000006 V49.7 M42.8 40.400000000000006 V49.7" stroke="#707070" stroke-width="1" fill="none"/><text x="30.3" y="39.7" font-size="5" fill="#000" font-weight="normal" text-anchor="middle" stroke="#000" stroke-width="0.3">N</text><text x="42.8" y="39.7" font-size="5" fill="#444" font-weight="normal" text-anchor="middle" >P</text><rect x="31.00" y="41.00000000000001" width="5.2" height="8.2" rx="1.3" fill="#2db52d"/><text x="33.6" y="47.900000000000006" font-size="5.4" fill="#fff" font-weight="normal" text-anchor="middle" stroke="#fff" stroke-width="0.15">6</text><text x="9.799999999999999" y="43.2" font-size="2.9" fill="#333" font-weight="bold" text-anchor="start" textLength="6.4" lengthAdjust="spacingAndGlyphs" >OFF</text><text x="16.8" y="43.2" font-size="2.9" fill="#555" font-weight="bold" text-anchor="start" textLength="5.4" lengthAdjust="spacingAndGlyphs" >ON</text><rect x="9.6" y="43.7" width="13" height="4.2" fill="#fff" stroke="#111" stroke-width="0.9"/><rect x="10.0" y="44.1" width="4" height="3.4" fill="#111"/><rect x="11.0" y="45.1" width="1.4" height="1.4" fill="#888"/></g><g transform="translate(535.6,319.9)"><rect x="0" y="0" width="50.8" height="50.2" fill="#fff" stroke="#000" stroke-width="1"/><path d="M5.4 0 V2.4 Q5.4 7.2 10.0 7.2 H13.8" fill="none" stroke="#949cda" stroke-width="1.3"/><path d="M13.8 7.6 H10.0 Q5.4 7.8 5.4 13 V50.2" fill="none" stroke="#949cda" stroke-width="1.3"/><path d="M7.6 0 V8 Q7.6 12 11.399999999999999 12 H13.8" fill="none" stroke="#d6a672" stroke-width="1.3"/><path d="M13.8 12.4 H11.399999999999999 Q7.6 12.6 7.6 16.8 V50.2" fill="none" stroke="#d6a672" stroke-width="1.3"/><path d="M10.4 7.4 H13.8" fill="none" stroke="#7a84d0" stroke-width="1.3"/><path d="M11.6 12.2 H13.8" fill="none" stroke="#c98d54" stroke-width="1.3"/><rect x="13.8" y="4.8" width="11.6" height="20.4" fill="#fff" stroke="#1a1a1a" stroke-width="0.9"/><rect x="14.2" y="5.2" width="5.4" height="19.6" fill="#1c7a22"/><path d="M19.8 4.8 V25.2 M19.8 15 H25.4" stroke="#1a1a1a" stroke-width="0.8"/><circle cx="16.9" cy="7.5" r="1.9" fill="#0c2a0c"/><path d="M15.9 8.6 L17.9 6.4" stroke="#fff" stroke-width="1.3" stroke-linecap="round"/><circle cx="16.9" cy="12.5" r="1.9" fill="#0c2a0c"/><path d="M15.9 13.6 L17.9 11.4" stroke="#fff" stroke-width="1.3" stroke-linecap="round"/><circle cx="16.9" cy="17.5" r="1.9" fill="#0c2a0c"/><path d="M15.9 18.6 L17.9 16.4" stroke="#fff" stroke-width="1.3" stroke-linecap="round"/><circle cx="16.9" cy="22.5" r="1.9" fill="#0c2a0c"/><path d="M15.9 23.6 L17.9 21.4" stroke="#fff" stroke-width="1.3" stroke-linecap="round"/><text transform="translate(24.2,13.9) rotate(-90)" font-size="3.7" font-weight="bold" fill="#111">BUS</text><path d="M21 19.5 H22.6 V22.4 M22.6 17.2 V19.5 L24.3 21 M21.2 22.4 H24" fill="none" stroke="#222" stroke-width="0.7"/><rect x="31.8" y="4.8" width="16.6" height="16.2" fill="#e6e6e6" stroke="#4c4c4c" stroke-width="0.9"/><rect x="33.9" y="6.4" width="12.4" height="7.8" fill="#cbe5fa" stroke="#3a3a3a" stroke-width="0.9"/><rect x="32.4" y="15.7" width="15.4" height="1" fill="#6e6e6e"/><rect x="32.4" y="17.6" width="15.4" height="0.8" fill="#a8a8a8"/><rect x="32.4" y="19.2" width="15.4" height="0.7" fill="#c4c4c4"/><rect x="24" y="34.400000000000006" width="25" height="15.3" fill="#fff" stroke="#707070" stroke-width="1.1"/><path d="M24 40.400000000000006 H49 M36.5 34.400000000000006 V49.7 M30.3 40.400000000000006 V49.7 M42.8 40.400000000000006 V49.7" stroke="#707070" stroke-width="1" fill="none"/><text x="30.3" y="39.7" font-size="5" fill="#000" font-weight="normal" text-anchor="middle" stroke="#000" stroke-width="0.3">N</text><text x="42.8" y="39.7" font-size="5" fill="#444" font-weight="normal" text-anchor="middle" >P</text><rect x="31.00" y="41.00000000000001" width="5.2" height="8.2" rx="1.3" fill="#2db52d"/><text x="33.6" y="47.900000000000006" font-size="5.4" fill="#fff" font-weight="normal" text-anchor="middle" stroke="#fff" stroke-width="0.15">5</text><text x="9.799999999999999" y="43.2" font-size="2.9" fill="#333" font-weight="bold" text-anchor="start" textLength="6.4" lengthAdjust="spacingAndGlyphs" >OFF</text><text x="16.8" y="43.2" font-size="2.9" fill="#555" font-weight="bold" text-anchor="start" textLength="5.4" lengthAdjust="spacingAndGlyphs" >ON</text><rect x="9.6" y="43.7" width="13" height="4.2" fill="#fff" stroke="#111" stroke-width="0.9"/><rect x="10.0" y="44.1" width="4" height="3.4" fill="#111"/><rect x="11.0" y="45.1" width="1.4" height="1.4" fill="#888"/></g><g transform="translate(535.6,119.3)"><rect x="0" y="0" width="50.8" height="50.1" fill="#fff" stroke="#000" stroke-width="1"/><path d="M13.8 7.4 H11.4 Q5.4 7.4 5.4 13.6 V50.1" fill="none" stroke="#949cda" stroke-width="1.3"/><path d="M13.8 12.2 H12.2 Q7.6 12.2 7.6 17 V50.1" fill="none" stroke="#d6a672" stroke-width="1.3"/><rect x="13.8" y="4.8" width="11.6" height="20.4" fill="#fff" stroke="#1a1a1a" stroke-width="0.9"/><rect x="14.2" y="5.2" width="5.4" height="19.6" fill="#1c7a22"/><path d="M19.8 4.8 V25.2 M19.8 15 H25.4" stroke="#1a1a1a" stroke-width="0.8"/><circle cx="16.9" cy="7.5" r="1.9" fill="#0c2a0c"/><path d="M15.9 8.6 L17.9 6.4" stroke="#fff" stroke-width="1.3" stroke-linecap="round"/><circle cx="16.9" cy="12.5" r="1.9" fill="#0c2a0c"/><path d="M15.9 13.6 L17.9 11.4" stroke="#fff" stroke-width="1.3" stroke-linecap="round"/><circle cx="16.9" cy="17.5" r="1.9" fill="#0c2a0c"/><path d="M15.9 18.6 L17.9 16.4" stroke="#fff" stroke-width="1.3" stroke-linecap="round"/><circle cx="16.9" cy="22.5" r="1.9" fill="#0c2a0c"/><path d="M15.9 23.6 L17.9 21.4" stroke="#fff" stroke-width="1.3" stroke-linecap="round"/><text transform="translate(24.2,13.9) rotate(-90)" font-size="3.7" font-weight="bold" fill="#111">BUS</text><path d="M21 19.5 H22.6 V22.4 M22.6 17.2 V19.5 L24.3 21 M21.2 22.4 H24" fill="none" stroke="#222" stroke-width="0.7"/><rect x="31.8" y="4.8" width="16.6" height="16.2" fill="#e6e6e6" stroke="#4c4c4c" stroke-width="0.9"/><rect x="33.9" y="6.4" width="12.4" height="7.8" fill="#cbe5fa" stroke="#3a3a3a" stroke-width="0.9"/><rect x="32.4" y="15.7" width="15.4" height="1" fill="#6e6e6e"/><rect x="32.4" y="17.6" width="15.4" height="0.8" fill="#a8a8a8"/><rect x="32.4" y="19.2" width="15.4" height="0.7" fill="#c4c4c4"/><rect x="24" y="34.3" width="25" height="15.3" fill="#fff" stroke="#707070" stroke-width="1.1"/><path d="M24 40.3 H49 M36.5 34.3 V49.599999999999994 M30.3 40.3 V49.599999999999994 M42.8 40.3 V49.599999999999994" stroke="#707070" stroke-width="1" fill="none"/><text x="30.3" y="39.599999999999994" font-size="5" fill="#000" font-weight="normal" text-anchor="middle" stroke="#000" stroke-width="0.3">N</text><text x="42.8" y="39.599999999999994" font-size="5" fill="#444" font-weight="normal" text-anchor="middle" >P</text><rect x="31.00" y="40.9" width="5.2" height="8.2" rx="1.3" fill="#2db52d"/><text x="33.6" y="47.8" font-size="5.4" fill="#fff" font-weight="normal" text-anchor="middle" stroke="#fff" stroke-width="0.15">9</text><text x="9.799999999999999" y="43.1" font-size="2.9" fill="#333" font-weight="bold" text-anchor="start" textLength="6.4" lengthAdjust="spacingAndGlyphs" >OFF</text><text x="16.8" y="43.1" font-size="2.9" fill="#e00000" font-weight="bold" text-anchor="start" textLength="5.4" lengthAdjust="spacingAndGlyphs" >ON</text><rect x="9.6" y="43.6" width="13" height="4.2" fill="#fff" stroke="#111" stroke-width="0.9"/><rect x="18.4" y="44.0" width="3.8" height="3.4" fill="#d40000"/><rect x="19.2" y="44.9" width="1.6" height="1.6" fill="#400"/></g><g transform="translate(635.4,319.4)"><rect x="0" y="0" width="50.4" height="51" fill="#fff" stroke="#000" stroke-width="1"/><path d="M13.8 7.4 H11.4 Q5.4 7.4 5.4 13.6 V51" fill="none" stroke="#949cda" stroke-width="1.3"/><path d="M13.8 12.2 H12.2 Q7.6 12.2 7.6 17 V51" fill="none" stroke="#d6a672" stroke-width="1.3"/><rect x="13.8" y="4.8" width="11.6" height="20.4" fill="#fff" stroke="#1a1a1a" stroke-width="0.9"/><rect x="14.2" y="5.2" width="5.4" height="19.6" fill="#1c7a22"/><path d="M19.8 4.8 V25.2 M19.8 15 H25.4" stroke="#1a1a1a" stroke-width="0.8"/><circle cx="16.9" cy="7.5" r="1.9" fill="#0c2a0c"/><path d="M15.9 8.6 L17.9 6.4" stroke="#fff" stroke-width="1.3" stroke-linecap="round"/><circle cx="16.9" cy="12.5" r="1.9" fill="#0c2a0c"/><path d="M15.9 13.6 L17.9 11.4" stroke="#fff" stroke-width="1.3" stroke-linecap="round"/><circle cx="16.9" cy="17.5" r="1.9" fill="#0c2a0c"/><path d="M15.9 18.6 L17.9 16.4" stroke="#fff" stroke-width="1.3" stroke-linecap="round"/><circle cx="16.9" cy="22.5" r="1.9" fill="#0c2a0c"/><path d="M15.9 23.6 L17.9 21.4" stroke="#fff" stroke-width="1.3" stroke-linecap="round"/><text transform="translate(24.2,13.9) rotate(-90)" font-size="3.7" font-weight="bold" fill="#111">BUS</text><path d="M21 19.5 H22.6 V22.4 M22.6 17.2 V19.5 L24.3 21 M21.2 22.4 H24" fill="none" stroke="#222" stroke-width="0.7"/><rect x="31.8" y="4.8" width="16.6" height="16.2" fill="#e6e6e6" stroke="#4c4c4c" stroke-width="0.9"/><rect x="33.9" y="6.4" width="12.4" height="7.8" fill="#3848a8" stroke="#3a3a3a" stroke-width="0.9"/><text x="40.1" y="12.4" font-size="5.2" fill="#fff" font-weight="normal" text-anchor="middle" >W</text><rect x="32.4" y="15.7" width="15.4" height="1" fill="#6e6e6e"/><rect x="32.4" y="17.6" width="15.4" height="0.8" fill="#a8a8a8"/><rect x="32.4" y="19.2" width="15.4" height="0.7" fill="#c4c4c4"/><rect x="24" y="35.2" width="25" height="15.3" fill="#fff" stroke="#707070" stroke-width="1.1"/><path d="M24 41.2 H49 M36.5 35.2 V50.5 M30.3 41.2 V50.5 M42.8 41.2 V50.5" stroke="#707070" stroke-width="1" fill="none"/><text x="30.3" y="40.5" font-size="5" fill="#000" font-weight="normal" text-anchor="middle" stroke="#000" stroke-width="0.3">N</text><text x="42.8" y="40.5" font-size="5" fill="#444" font-weight="normal" text-anchor="middle" >P</text><rect x="24.70" y="41.800000000000004" width="5.2" height="8.2" rx="1.3" fill="#2db52d"/><text x="27.3" y="48.7" font-size="5.4" fill="#fff" font-weight="normal" text-anchor="middle" stroke="#fff" stroke-width="0.15">1</text><rect x="31.00" y="41.800000000000004" width="5.2" height="8.2" rx="1.3" fill="#2db52d"/><text x="33.6" y="48.7" font-size="5.4" fill="#fff" font-weight="normal" text-anchor="middle" stroke="#fff" stroke-width="0.15">0</text><text x="9.799999999999999" y="44.0" font-size="2.9" fill="#333" font-weight="bold" text-anchor="start" textLength="6.4" lengthAdjust="spacingAndGlyphs" >OFF</text><text x="16.8" y="44.0" font-size="2.9" fill="#e00000" font-weight="bold" text-anchor="start" textLength="5.4" lengthAdjust="spacingAndGlyphs" >ON</text><rect x="9.6" y="44.5" width="13" height="4.2" fill="#fff" stroke="#111" stroke-width="0.9"/><rect x="18.4" y="44.9" width="3.8" height="3.4" fill="#d40000"/><rect x="19.2" y="45.8" width="1.6" height="1.6" fill="#400"/></g><g transform="translate(685.8,319.4)"><rect x="0" y="0" width="50.8" height="51" fill="#fff" stroke="#000" stroke-width="1"/><path d="M13.8 7.4 H11.4 Q5.4 7.4 5.4 13.6 V51" fill="none" stroke="#949cda" stroke-width="1.3"/><path d="M13.8 12.2 H12.2 Q7.6 12.2 7.6 17 V51" fill="none" stroke="#d6a672" stroke-width="1.3"/><rect x="13.8" y="4.8" width="11.6" height="20.4" fill="#fff" stroke="#1a1a1a" stroke-width="0.9"/><rect x="14.2" y="5.2" width="5.4" height="19.6" fill="#1c7a22"/><path d="M19.8 4.8 V25.2 M19.8 15 H25.4" stroke="#1a1a1a" stroke-width="0.8"/><circle cx="16.9" cy="7.5" r="1.9" fill="#0c2a0c"/><path d="M15.9 8.6 L17.9 6.4" stroke="#fff" stroke-width="1.3" stroke-linecap="round"/><circle cx="16.9" cy="12.5" r="1.9" fill="#0c2a0c"/><path d="M15.9 13.6 L17.9 11.4" stroke="#fff" stroke-width="1.3" stroke-linecap="round"/><circle cx="16.9" cy="17.5" r="1.9" fill="#0c2a0c"/><path d="M15.9 18.6 L17.9 16.4" stroke="#fff" stroke-width="1.3" stroke-linecap="round"/><circle cx="16.9" cy="22.5" r="1.9" fill="#0c2a0c"/><path d="M15.9 23.6 L17.9 21.4" stroke="#fff" stroke-width="1.3" stroke-linecap="round"/><text transform="translate(24.2,13.9) rotate(-90)" font-size="3.7" font-weight="bold" fill="#111">BUS</text><path d="M21 19.5 H22.6 V22.4 M22.6 17.2 V19.5 L24.3 21 M21.2 22.4 H24" fill="none" stroke="#222" stroke-width="0.7"/><rect x="31.8" y="4.8" width="16.6" height="16.2" fill="#e6e6e6" stroke="#4c4c4c" stroke-width="0.9"/><rect x="33.9" y="6.4" width="12.4" height="7.8" fill="#3848a8" stroke="#3a3a3a" stroke-width="0.9"/><text x="40.1" y="12.4" font-size="5.2" fill="#fff" font-weight="normal" text-anchor="middle" >W</text><rect x="32.4" y="15.7" width="15.4" height="1" fill="#6e6e6e"/><rect x="32.4" y="17.6" width="15.4" height="0.8" fill="#a8a8a8"/><rect x="32.4" y="19.2" width="15.4" height="0.7" fill="#c4c4c4"/><rect x="24" y="35.2" width="25" height="15.3" fill="#fff" stroke="#707070" stroke-width="1.1"/><path d="M24 41.2 H49 M36.5 35.2 V50.5 M30.3 41.2 V50.5 M42.8 41.2 V50.5" stroke="#707070" stroke-width="1" fill="none"/><text x="30.3" y="40.5" font-size="5" fill="#000" font-weight="normal" text-anchor="middle" stroke="#000" stroke-width="0.3">N</text><text x="42.8" y="40.5" font-size="5" fill="#444" font-weight="normal" text-anchor="middle" >P</text><rect x="24.70" y="41.800000000000004" width="5.2" height="8.2" rx="1.3" fill="#2db52d"/><text x="27.3" y="48.7" font-size="5.4" fill="#fff" font-weight="normal" text-anchor="middle" stroke="#fff" stroke-width="0.15">1</text><rect x="31.00" y="41.800000000000004" width="5.2" height="8.2" rx="1.3" fill="#2db52d"/><text x="33.6" y="48.7" font-size="5.4" fill="#fff" font-weight="normal" text-anchor="middle" stroke="#fff" stroke-width="0.15">1</text><text x="9.799999999999999" y="44.0" font-size="2.9" fill="#333" font-weight="bold" text-anchor="start" textLength="6.4" lengthAdjust="spacingAndGlyphs" >OFF</text><text x="16.8" y="44.0" font-size="2.9" fill="#e00000" font-weight="bold" text-anchor="start" textLength="5.4" lengthAdjust="spacingAndGlyphs" >ON</text><rect x="9.6" y="44.5" width="13" height="4.2" fill="#fff" stroke="#111" stroke-width="0.9"/><rect x="18.4" y="44.9" width="3.8" height="3.4" fill="#d40000"/><rect x="19.2" y="45.8" width="1.6" height="1.6" fill="#400"/></g></g>
<g transform="translate(518.7,509.7)"><rect x="0" y="0" width="86.4" height="46.6" rx="1.8" fill="#e2e2e2" stroke="#111" stroke-width="1.4"/><path d="M22 1.8 H84.5" stroke="#111" stroke-width="1.1" stroke-dasharray="2.2 1.1"/><circle cx="4.6" cy="2.6" r="1.2" fill="#fff" stroke="#111" stroke-width="0.5"/><path d="M3.5999999999999996 3.4000000000000004 L5.6 1.8" stroke="#111" stroke-width="0.5"/><circle cx="13" cy="2.6" r="1.2" fill="#fff" stroke="#111" stroke-width="0.5"/><path d="M12 3.4000000000000004 L14 1.8" stroke="#111" stroke-width="0.5"/><rect x="1.6" y="5" width="18" height="3.8" fill="#d0d0d0" stroke="#222" stroke-width="0.7"/><text x="2.6" y="8.1" font-size="3.1" fill="#222" font-weight="bold" text-anchor="start" textLength="16" lengthAdjust="spacingAndGlyphs" >PRIMAIR</text><path d="M1.6 14.4 H84.8" stroke="#111" stroke-width="1.2" stroke-dasharray="2.2 1.1"/><rect x="2.4" y="15.2" width="80.4" height="15.4" fill="#fff" stroke="#888" stroke-width="0.4"/><text x="3.4" y="21.6" font-size="6.4" fill="#222" font-weight="bold" text-anchor="start" textLength="14" lengthAdjust="spacingAndGlyphs" >E-67</text><text x="42.4" y="21.4" font-size="5.4" fill="#111" font-weight="normal" text-anchor="start" textLength="26" lengthAdjust="spacingAndGlyphs" stroke="#111" stroke-width="0.3">VOEDING</text><rect x="72" y="17" width="10" height="3.6" fill="#bcbcbc"/><rect x="2.4" y="25" width="0.9" height="5.6" fill="#e00000"/><text x="4.2" y="29.8" font-size="2.8" fill="#222" font-weight="bold" text-anchor="start" textLength="12.5" lengthAdjust="spacingAndGlyphs" >346050</text><g transform="translate(56,24.366666666666667) scale(0.3611)"><rect x="0" y="0" width="4.60" height="15.60" rx="0.6" fill="#ff6a13"/><rect x="0" y="3.2" width="12.60" height="12.40" rx="2.2" fill="#ff6a13"/><rect x="5.4" y="7.4" width="2.20" height="4.20" rx="0.6" fill="#fff"/><rect x="14" y="0.4" width="4.20" height="15.20" rx="0.6" fill="#111"/><rect x="14" y="3.2" width="6.40" height="3.60" rx="0.4" fill="#111"/><rect x="14" y="12" width="6.40" height="3.60" rx="1.2" fill="#111"/><rect x="21.5" y="3.2" width="4.20" height="12.40" rx="0.5" fill="#111"/><rect x="26.8" y="3.2" width="10.80" height="12.40" rx="2.2" fill="#111"/><rect x="32" y="7.4" width="6.00" height="4.20" rx="0.5" fill="#fff"/><rect x="38.7" y="3.2" width="4.20" height="12.40" rx="0.5" fill="#111"/><rect x="44" y="3.2" width="13.00" height="12.40" rx="2.2" fill="#111"/><rect x="44" y="9" width="13.00" height="6.60" rx="0.3" fill="#111"/><rect x="49.2" y="8" width="2.40" height="7.80" rx="0.6" fill="#fff"/><rect x="58.2" y="3.2" width="13.80" height="12.40" rx="2.4" fill="#111"/><rect x="63.8" y="7.4" width="2.40" height="4.20" rx="0.6" fill="#fff"/></g><rect x="2.4" y="30.2" width="80.4" height="0.9" fill="#e00000"/><path d="M1.6 32.2 H84.8" stroke="#111" stroke-width="1.2" stroke-dasharray="2.2 1.1"/><rect x="41.4" y="38.2" width="36.6" height="4.4" fill="#c8c8c8" stroke="#222" stroke-width="0.9"/><path d="M45.97 38.2 V42.6" stroke="#333" stroke-width="0.5"/><path d="M50.54 38.2 V42.6" stroke="#333" stroke-width="0.5"/><path d="M55.11 38.2 V42.6" stroke="#333" stroke-width="0.5"/><path d="M59.68 38.2 V42.6" stroke="#333" stroke-width="0.5"/><path d="M64.25 38.2 V42.6" stroke="#333" stroke-width="0.5"/><path d="M68.82 38.2 V42.6" stroke="#333" stroke-width="0.5"/><path d="M73.39 38.2 V42.6" stroke="#333" stroke-width="0.5"/><path d="M77.96 38.2 V42.6" stroke="#333" stroke-width="0.5"/><rect x="42.2" y="39" width="7.6" height="2.8" fill="#9a9a9a"/><rect x="51.4" y="39" width="7.6" height="2.8" fill="#9a9a9a"/><text x="44.6" y="37.4" font-size="2.2" fill="#222" font-weight="normal" text-anchor="start" >BUS</text><text x="53.8" y="37.4" font-size="2.2" fill="#222" font-weight="normal" text-anchor="start" >BUS</text><circle cx="44.30" cy="44.2" r="1.45" fill="#fff" stroke="#000" stroke-width="0.85"/><path d="M43.10 45.3 L45.50 43.1" stroke="#000" stroke-width="0.9"/><circle cx="48.70" cy="44.2" r="1.45" fill="#fff" stroke="#000" stroke-width="0.85"/><path d="M47.50 45.3 L49.90 43.1" stroke="#000" stroke-width="0.9"/><circle cx="53.10" cy="44.2" r="1.45" fill="#fff" stroke="#000" stroke-width="0.85"/><path d="M51.90 45.3 L54.30 43.1" stroke="#000" stroke-width="0.9"/><circle cx="57.50" cy="44.2" r="1.45" fill="#fff" stroke="#000" stroke-width="0.85"/><path d="M56.30 45.3 L58.70 43.1" stroke="#000" stroke-width="0.9"/><circle cx="61.90" cy="44.2" r="1.45" fill="#fff" stroke="#000" stroke-width="0.85"/><path d="M60.70 45.3 L63.10 43.1" stroke="#000" stroke-width="0.9"/><circle cx="66.30" cy="44.2" r="1.45" fill="#fff" stroke="#000" stroke-width="0.85"/><path d="M65.10 45.3 L67.50 43.1" stroke="#000" stroke-width="0.9"/><circle cx="70.70" cy="44.2" r="1.45" fill="#fff" stroke="#000" stroke-width="0.85"/><path d="M69.50 45.3 L71.90 43.1" stroke="#000" stroke-width="0.9"/><circle cx="75.10" cy="44.2" r="1.45" fill="#fff" stroke="#000" stroke-width="0.85"/><path d="M73.90 45.3 L76.30 43.1" stroke="#000" stroke-width="0.9"/><path d="M3.4 45.4 H32" stroke="#111" stroke-width="1.1" stroke-dasharray="2.2 1.1"/></g>
<g transform="translate(618,511.3)"><path d="M0.4 12.6 A3.8 7 0 0 0 0.4 26.6 Z M41.4 12.6 A3.8 7 0 0 1 41.4 26.6 Z" fill="#5c5c5c" stroke="#111" stroke-width="0.9"/><rect x="0" y="0" width="41.8" height="41.2" fill="#7f7f7f" stroke="#111" stroke-width="1.1"/><rect x="3.6" y="1.7" width="32" height="3.5" rx="1.7" fill="#f2f2f2"/><path d="M4.00 5.2 L7.40 1.7" stroke="#000" stroke-width="1.25"/><path d="M7.55 5.2 L10.95 1.7" stroke="#000" stroke-width="1.25"/><path d="M11.10 5.2 L14.50 1.7" stroke="#000" stroke-width="1.25"/><path d="M14.65 5.2 L18.05 1.7" stroke="#000" stroke-width="1.25"/><path d="M18.20 5.2 L21.60 1.7" stroke="#000" stroke-width="1.25"/><path d="M21.75 5.2 L25.15 1.7" stroke="#000" stroke-width="1.25"/><path d="M25.30 5.2 L28.70 1.7" stroke="#000" stroke-width="1.25"/><path d="M28.85 5.2 L32.25 1.7" stroke="#000" stroke-width="1.25"/><path d="M32.40 5.2 L35.80 1.7" stroke="#000" stroke-width="1.25"/><rect x="3.95" y="5.8" width="0.9" height="5.8" fill="#f0f0f0"/><rect x="11.85" y="5.8" width="0.9" height="5.8" fill="#f0f0f0"/><rect x="19.75" y="5.8" width="0.9" height="5.8" fill="#f0f0f0"/><rect x="27.65" y="5.8" width="0.9" height="5.8" fill="#f0f0f0"/><rect x="35.55" y="5.8" width="0.9" height="5.8" fill="#f0f0f0"/><text x="8.350000000000001" y="10.8" font-size="3.9" fill="#f2f2f2" font-weight="bold" text-anchor="middle" >P1</text><text x="16.25" y="10.8" font-size="3.9" fill="#f2f2f2" font-weight="bold" text-anchor="middle" >P2</text><text x="24.150000000000002" y="10.8" font-size="3.9" fill="#f2f2f2" font-weight="bold" text-anchor="middle" >P3</text><text x="32.050000000000004" y="10.8" font-size="3.9" fill="#f2f2f2" font-weight="bold" text-anchor="middle" >P4</text><text x="2.8" y="18.4" font-size="6" fill="#ececec" font-weight="bold" text-anchor="start" textLength="22.6" lengthAdjust="spacingAndGlyphs" >3468 41</text><text x="29.4" y="18.4" font-size="6" fill="#ececec" font-weight="bold" text-anchor="start" textLength="9.6" lengthAdjust="spacingAndGlyphs" >VV</text><g transform="translate(7,18.746666666666666) scale(0.3944)"><rect x="0" y="0" width="4.60" height="15.60" rx="0.6" fill="#ff6a13"/><rect x="0" y="3.2" width="12.60" height="12.40" rx="2.2" fill="#ff6a13"/><rect x="5.4" y="7.4" width="2.20" height="4.20" rx="0.6" fill="#7f7f7f"/><rect x="14" y="0.4" width="4.20" height="15.20" rx="0.6" fill="#0c0c0c"/><rect x="14" y="3.2" width="6.40" height="3.60" rx="0.4" fill="#0c0c0c"/><rect x="14" y="12" width="6.40" height="3.60" rx="1.2" fill="#0c0c0c"/><rect x="21.5" y="3.2" width="4.20" height="12.40" rx="0.5" fill="#0c0c0c"/><rect x="26.8" y="3.2" width="10.80" height="12.40" rx="2.2" fill="#0c0c0c"/><rect x="32" y="7.4" width="6.00" height="4.20" rx="0.5" fill="#7f7f7f"/><rect x="38.7" y="3.2" width="4.20" height="12.40" rx="0.5" fill="#0c0c0c"/><rect x="44" y="3.2" width="13.00" height="12.40" rx="2.2" fill="#0c0c0c"/><rect x="44" y="9" width="13.00" height="6.60" rx="0.3" fill="#0c0c0c"/><rect x="49.2" y="8" width="2.40" height="7.80" rx="0.6" fill="#7f7f7f"/><rect x="58.2" y="3.2" width="13.80" height="12.40" rx="2.4" fill="#0c0c0c"/><rect x="63.8" y="7.4" width="2.40" height="4.20" rx="0.6" fill="#7f7f7f"/></g><rect x="15.6" y="27.2" width="0.8" height="9.2" fill="#f0f0f0"/><rect x="24.8" y="27.2" width="0.8" height="9.2" fill="#f0f0f0"/><text x="20.6" y="31.6" font-size="3.8" fill="#f2f2f2" font-weight="bold" text-anchor="middle" >IN</text><text x="20.6" y="35.4" font-size="3.8" fill="#f2f2f2" font-weight="bold" text-anchor="middle" textLength="7.4" lengthAdjust="spacingAndGlyphs" >OUT</text><circle cx="18.4" cy="38.2" r="1.7" fill="#eee" stroke="#111" stroke-width="0.6"/><path d="M17.2 39.3 L19.599999999999998 37.1" stroke="#111" stroke-width="0.8"/><circle cx="22.8" cy="38.2" r="1.7" fill="#eee" stroke="#111" stroke-width="0.6"/><path d="M21.6 39.3 L24.0 37.1" stroke="#111" stroke-width="0.8"/></g>
<g id="legend"><rect x="682.6" y="76.6" width="140.79999999999995" height="150.6" fill="#fff"/><rect x="684.4" y="78.39999999999999" width="67.4" height="47.00000000000001" fill="none" stroke="#a8a8a8" stroke-width="1.7"/><rect x="684.4" y="78.39999999999999" width="67.4" height="47.00000000000001" stroke="#1e1e1e" stroke-width="1.7" stroke-dasharray="1.6 1.25" fill="none"/><rect x="684.4" y="127.0" width="67.4" height="48.6" fill="none" stroke="#a8a8a8" stroke-width="1.7"/><rect x="684.4" y="127.0" width="67.4" height="48.6" stroke="#1e1e1e" stroke-width="1.7" stroke-dasharray="1.6 1.25" fill="none"/><rect x="684.4" y="177.20000000000002" width="67.4" height="48.19999999999998" fill="none" stroke="#a8a8a8" stroke-width="1.7"/><rect x="684.4" y="177.20000000000002" width="67.4" height="48.19999999999998" stroke="#1e1e1e" stroke-width="1.7" stroke-dasharray="1.6 1.25" fill="none"/><rect x="753.4" y="78.39999999999999" width="68.19999999999996" height="47.00000000000001" fill="none" stroke="#a8a8a8" stroke-width="1.7"/><rect x="753.4" y="78.39999999999999" width="68.19999999999996" height="47.00000000000001" stroke="#1e1e1e" stroke-width="1.7" stroke-dasharray="1.6 1.25" fill="none"/><rect x="753.4" y="127.0" width="68.19999999999996" height="48.6" fill="none" stroke="#a8a8a8" stroke-width="1.7"/><rect x="753.4" y="127.0" width="68.19999999999996" height="48.6" stroke="#1e1e1e" stroke-width="1.7" stroke-dasharray="1.6 1.25" fill="none"/><rect x="753.4" y="177.20000000000002" width="68.19999999999996" height="48.19999999999998" fill="none" stroke="#a8a8a8" stroke-width="1.7"/><rect x="753.4" y="177.20000000000002" width="68.19999999999996" height="48.19999999999998" stroke="#1e1e1e" stroke-width="1.7" stroke-dasharray="1.6 1.25" fill="none"/><rect x="687" y="79.5" width="16" height="1.5" fill="#8a4a10"/><rect x="687" y="81" width="19.6" height="1.6" fill="#2f3c9e"/><text x="708" y="84" font-size="6.4" fill="#2f3c9e" font-weight="bold" text-anchor="start" textLength="40.5" lengthAdjust="spacingAndGlyphs" font-style="italic" stroke="#2f3c9e" stroke-width="0.5">systeemkabel</text><text x="687" y="90.4" font-size="6.4" fill="#7d7d7d" font-weight="bold" text-anchor="start" textLength="54" lengthAdjust="spacingAndGlyphs" stroke="#7d7d7d" stroke-width="0.5">Bij enkel gebruik</text><text x="687" y="97.02000000000001" font-size="6.4" fill="#7d7d7d" font-weight="bold" text-anchor="start" textLength="54" lengthAdjust="spacingAndGlyphs" stroke="#7d7d7d" stroke-width="0.5">kabel 50% dikwijl</text><text x="687" y="103.64" font-size="6.4" fill="#7d7d7d" font-weight="bold" text-anchor="start" textLength="57" lengthAdjust="spacingAndGlyphs" stroke="#7d7d7d" stroke-width="0.5">Bij aangelegde kabel</text><text x="687" y="110.26" font-size="6.4" fill="#7d7d7d" font-weight="bold" text-anchor="start" textLength="61" lengthAdjust="spacingAndGlyphs" stroke="#7d7d7d" stroke-width="0.5">max. 40 meter tussen-</text><text x="687" y="116.88000000000001" font-size="6.4" fill="#7d7d7d" font-weight="bold" text-anchor="start" textLength="58" lengthAdjust="spacingAndGlyphs" stroke="#7d7d7d" stroke-width="0.5">post naar videofoon.</text><text x="689" y="123.5" font-size="6.4" fill="#7d7d7d" font-weight="bold" text-anchor="start" textLength="48" lengthAdjust="spacingAndGlyphs" stroke="#7d7d7d" stroke-width="0.5">UTP is verboden.</text><text x="757" y="83.8" font-size="6" fill="#7d7d7d" font-weight="bold" text-anchor="start" textLength="56" lengthAdjust="spacingAndGlyphs" stroke="#7d7d7d" stroke-width="0.4">VERBODEN bij BUS</text><g transform="translate(772.5,97.3)"><path d="M-7 5.6 L-4.4 1.2 L-1 -2.6 L2.4 -5.6 L4.4 -4.4 L6.2 -2.4 L4.8 -0.4 L6.4 1 L3 3.6 L-0.6 4.6 L-3.6 4.4 L-5.4 7 Z" fill="#111"/><circle r="9.9" fill="none" stroke="#ff0000" stroke-width="3"/><path d="M-7.00 -7.00 L7.00 7.00" stroke="#ff0000" stroke-width="2.2"/></g><g transform="translate(803.3,97.3)"><path d="M1.6 -7.4 L-1.4 -2.2 L1 -1.2 L-2 5.8" fill="none" stroke="#222" stroke-width="2.6"/><path d="M1.6 -7.4 L-1.4 -2.2 L1 -1.2 L-2 5.8" fill="none" stroke="#d6c820" stroke-width="1.1"/><path d="M-3.6 1.6 L3.8 -2" stroke="#222" stroke-width="1"/><circle r="9.9" fill="none" stroke="#ff0000" stroke-width="3"/><path d="M-7.00 -7.00 L7.00 7.00" stroke="#ff0000" stroke-width="2.2"/></g><rect x="755" y="110.6" width="6.4" height="2.2" fill="#2f3c9e"/><rect x="764" y="110.6" width="56" height="2.2" fill="#2f3c9e"/><text x="788" y="117.6" font-size="5.2" fill="#2f3c9e" font-weight="bold" text-anchor="middle" textLength="40" lengthAdjust="spacingAndGlyphs" >gescheiden van</text><rect x="763" y="120.6" width="50" height="2.2" fill="#2f3c9e"/><text x="788" y="123.4" font-size="5" fill="#2f3c9e" font-weight="bold" text-anchor="middle" textLength="44" lengthAdjust="spacingAndGlyphs" >230 Volt kabels</text><text x="788" y="112.6" font-size="4.6" fill="#2f3c9e" font-weight="bold" text-anchor="middle" textLength="50" lengthAdjust="spacingAndGlyphs" >systeemkabel steeds</text><text x="686" y="134" font-size="6.2" fill="#7d7d7d" font-weight="bold" text-anchor="start" textLength="13" lengthAdjust="spacingAndGlyphs" stroke="#7d7d7d" stroke-width="0.5">E 49</text><path d="M743.8 128 V165" stroke="#8a4a10" stroke-width="1.7"/><path d="M746.2 128 V166" stroke="#2f3c9e" stroke-width="1.6"/><path d="M738 148.2 L743.8 151.4" stroke="#8a4a10" stroke-width="1.6"/><path d="M738 153 L746.2 157.6" stroke="#2f3c9e" stroke-width="1.6"/><rect x="719.4" y="139.6" width="6" height="5.4" fill="#111"/><rect x="719.4" y="147.8" width="6" height="5.6" fill="#111"/><rect x="721.4" y="141" width="2.4" height="2.4" fill="#fff"/><rect x="721.4" y="149.4" width="2.4" height="2.4" fill="#fff"/><rect x="725" y="137.2" width="13.4" height="18.6" fill="#111"/><rect x="726" y="138.4" width="6" height="16.2" fill="#9be03a"/><rect x="727.6" y="139.8" width="2.6" height="2.2" fill="#2d5a12"/><path d="M733 139.4 l4 3 m0 -3 l-4 3" stroke="#9a9a9a" stroke-width="0.8"/><rect x="727.6" y="143.7" width="2.6" height="2.2" fill="#2d5a12"/><path d="M733 143.3 l4 3 m0 -3 l-4 3" stroke="#9a9a9a" stroke-width="0.8"/><rect x="727.6" y="147.6" width="2.6" height="2.2" fill="#2d5a12"/><path d="M733 147.2 l4 3 m0 -3 l-4 3" stroke="#9a9a9a" stroke-width="0.8"/><rect x="727.6" y="151.5" width="2.6" height="2.2" fill="#2d5a12"/><path d="M733 151.1 l4 3 m0 -3 l-4 3" stroke="#9a9a9a" stroke-width="0.8"/><text x="696" y="164.6" font-size="5.4" fill="#2f3c9e" font-weight="bold" text-anchor="start" textLength="42" lengthAdjust="spacingAndGlyphs" stroke="#2f3c9e" stroke-width="0.4">De klem monitor</text><text x="687" y="170.0" font-size="5.4" fill="#2f3c9e" font-weight="bold" text-anchor="start" textLength="62" lengthAdjust="spacingAndGlyphs" stroke="#2f3c9e" stroke-width="0.4">enkel UTP bij continuiteit</text><text x="693" y="175.4" font-size="5.4" fill="#2f3c9e" font-weight="bold" text-anchor="start" textLength="49" lengthAdjust="spacingAndGlyphs" stroke="#2f3c9e" stroke-width="0.4">voor polariteit neutraal</text><text x="757" y="133.8" font-size="6" fill="#7d7d7d" font-weight="bold" text-anchor="start" textLength="60" lengthAdjust="spacingAndGlyphs" stroke="#7d7d7d" stroke-width="0.4">Netsnoer &amp; Schakelaar</text><path d="M762 135 C762 141 763 144 770 145.6 C780 148 788 149 790 153 V161" fill="none" stroke="#1a1a1a" stroke-width="5.4"/><g transform="translate(803.3,147.3)"><path d="M1.6 -7.4 L-1.4 -2.2 L1 -1.2 L-2 5.8" fill="none" stroke="#222" stroke-width="2.6"/><path d="M1.6 -7.4 L-1.4 -2.2 L1 -1.2 L-2 5.8" fill="none" stroke="#d6c820" stroke-width="1.1"/><path d="M-3.6 1.6 L3.8 -2" stroke="#222" stroke-width="1"/><circle r="9.7" fill="none" stroke="#ff0000" stroke-width="3"/><path d="M-6.86 -6.86 L6.86 6.86" stroke="#ff0000" stroke-width="2.2"/></g><rect x="755" y="160.6" width="67" height="2.6" fill="#2f3c9e"/><text x="756" y="164.2" font-size="5.2" fill="#2f3c9e" font-weight="bold" text-anchor="start" textLength="50" lengthAdjust="spacingAndGlyphs" stroke="#2f3c9e" stroke-width="0.4">Het monteren gebeurt</text><text x="766" y="169.5" font-size="5.2" fill="#2f3c9e" font-weight="bold" text-anchor="start" textLength="44" lengthAdjust="spacingAndGlyphs" stroke="#2f3c9e" stroke-width="0.4">enkel spanningsloos</text><text x="759" y="174.79999999999998" font-size="5.2" fill="#2f3c9e" font-weight="bold" text-anchor="start" textLength="58" lengthAdjust="spacingAndGlyphs" stroke="#2f3c9e" stroke-width="0.4">losmaken / verwijderen</text><rect x="687.6" y="177.6" width="64" height="20.8" rx="1.8" fill="#e4e4e4" stroke="#111" stroke-width="1.3"/><rect x="690" y="178.6" width="58" height="5" fill="#fff"/><path d="M690.3 178.8 V183.5 H748" fill="none" stroke="#e00000" stroke-width="0.8"/><text x="692" y="182.8" font-size="3.2" fill="#333" font-weight="bold" text-anchor="start" textLength="12" lengthAdjust="spacingAndGlyphs" >346050</text><g transform="translate(723.4,177.88333333333335) scale(0.3472)"><rect x="0" y="0" width="4.60" height="15.60" rx="0.6" fill="#ff6a13"/><rect x="0" y="3.2" width="12.60" height="12.40" rx="2.2" fill="#ff6a13"/><rect x="5.4" y="7.4" width="2.20" height="4.20" rx="0.6" fill="#fff"/><rect x="14" y="0.4" width="4.20" height="15.20" rx="0.6" fill="#111"/><rect x="14" y="3.2" width="6.40" height="3.60" rx="0.4" fill="#111"/><rect x="14" y="12" width="6.40" height="3.60" rx="1.2" fill="#111"/><rect x="21.5" y="3.2" width="4.20" height="12.40" rx="0.5" fill="#111"/><rect x="26.8" y="3.2" width="10.80" height="12.40" rx="2.2" fill="#111"/><rect x="32" y="7.4" width="6.00" height="4.20" rx="0.5" fill="#fff"/><rect x="38.7" y="3.2" width="4.20" height="12.40" rx="0.5" fill="#111"/><rect x="44" y="3.2" width="13.00" height="12.40" rx="2.2" fill="#111"/><rect x="44" y="9" width="13.00" height="6.60" rx="0.3" fill="#111"/><rect x="49.2" y="8" width="2.40" height="7.80" rx="0.6" fill="#fff"/><rect x="58.2" y="3.2" width="13.80" height="12.40" rx="2.4" fill="#111"/><rect x="63.8" y="7.4" width="2.40" height="4.20" rx="0.6" fill="#fff"/></g><rect x="689.4" y="184.8" width="13.4" height="5" fill="#2a2a2a"/><path d="M690.0 187.3 h12.4" stroke="#bbb" stroke-width="0.6" stroke-dasharray="1 0.8"/><rect x="704.0" y="184.8" width="13.4" height="5" fill="#2a2a2a"/><path d="M704.6 187.3 h12.4" stroke="#bbb" stroke-width="0.6" stroke-dasharray="1 0.8"/><rect x="718.6" y="184.8" width="13.4" height="5" fill="#2a2a2a"/><path d="M719.2 187.3 h12.4" stroke="#bbb" stroke-width="0.6" stroke-dasharray="1 0.8"/><rect x="733.2" y="184.8" width="13.4" height="5" fill="#2a2a2a"/><path d="M733.8 187.3 h12.4" stroke="#bbb" stroke-width="0.6" stroke-dasharray="1 0.8"/><rect x="689" y="190.4" width="61" height="3.6" fill="#f2f2f2"/><rect x="718.0" y="190.8" width="6.2" height="2.8" fill="#fff" stroke="#777" stroke-width="0.5"/><rect x="725.6" y="190.8" width="6.2" height="2.8" fill="#fff" stroke="#777" stroke-width="0.5"/><rect x="733.2" y="190.8" width="6.2" height="2.8" fill="#fff" stroke="#777" stroke-width="0.5"/><rect x="740.8" y="190.8" width="6.2" height="2.8" fill="#fff" stroke="#777" stroke-width="0.5"/><path d="M718 196.2 H750" stroke="#111" stroke-width="2.4" stroke-dasharray="2.4 1.4"/><path d="M685 206.1 H752" stroke="#8a4a10" stroke-width="2.2"/><path d="M728 207.8 H752" stroke="#2f3c9e" stroke-width="1.4"/><path d="M721.4 198.4 L723.4 206" stroke="#8a4a10" stroke-width="2.6"/><path d="M724.6 198.4 L729.4 207" stroke="#2f3c9e" stroke-width="1.8"/><text x="691" y="214.4" font-size="5.4" fill="#2f3c9e" font-weight="bold" text-anchor="start" textLength="54" lengthAdjust="spacingAndGlyphs" stroke="#2f3c9e" stroke-width="0.4">De lange leidingen</text><text x="689" y="219.70000000000002" font-size="5.4" fill="#2f3c9e" font-weight="bold" text-anchor="start" textLength="59" lengthAdjust="spacingAndGlyphs" stroke="#2f3c9e" stroke-width="0.4">enkel UTP bij voeding</text><text x="693" y="225.0" font-size="5.4" fill="#2f3c9e" font-weight="bold" text-anchor="start" textLength="51" lengthAdjust="spacingAndGlyphs" stroke="#2f3c9e" stroke-width="0.4">voor polariteit neutraal</text><text x="757" y="183.2" font-size="5.6" fill="#7d7d7d" font-weight="bold" text-anchor="start" textLength="38" lengthAdjust="spacingAndGlyphs" stroke="#7d7d7d" stroke-width="0.3">Videoverdeler</text><path d="M814.7 178 V215" stroke="#8a4a10" stroke-width="1.4"/><path d="M816.3 178 V218" stroke="#2f3c9e" stroke-width="1.5"/><path d="M808.6 197.4 L814.7 201" stroke="#8a4a10" stroke-width="1.6"/><path d="M808.6 203 L816.3 206.4" stroke="#2f3c9e" stroke-width="1.6"/><rect x="791.6" y="190.4" width="17" height="17" fill="#a8a8a8" stroke="#111" stroke-width="1.3"/><rect x="792.8" y="191.6" width="14.6" height="4" fill="#8e8e8e"/><rect x="792.8" y="203" width="14.6" height="3.2" fill="#c8c8c8"/><rect x="794" y="195.6" width="6.4" height="1.3" fill="#ececec"/><rect x="794" y="198.4" width="6.4" height="1.3" fill="#ececec"/><rect x="794" y="201.2" width="6.4" height="1.3" fill="#ececec"/><circle cx="804" cy="196.6" r="1.4" fill="#eee" stroke="#111" stroke-width="0.6"/><circle cx="804" cy="200.8" r="1.4" fill="#eee" stroke="#111" stroke-width="0.6"/><text x="767" y="214.4" font-size="5.4" fill="#2f3c9e" font-weight="bold" text-anchor="start" textLength="41" lengthAdjust="spacingAndGlyphs" stroke="#2f3c9e" stroke-width="0.4">De witte monitor</text><text x="759" y="219.70000000000002" font-size="5.4" fill="#2f3c9e" font-weight="bold" text-anchor="start" textLength="58" lengthAdjust="spacingAndGlyphs" stroke="#2f3c9e" stroke-width="0.4">enkel UTP bij 2 leidingen</text><text x="764" y="225.0" font-size="5.4" fill="#2f3c9e" font-weight="bold" text-anchor="start" textLength="48" lengthAdjust="spacingAndGlyphs" stroke="#2f3c9e" stroke-width="0.4">voor polariteit neutraal</text></g>
<text x="620.6" y="474.3" font-size="6.2" fill="#2f3c9e" font-weight="bold" text-anchor="end" textLength="74" lengthAdjust="spacingAndGlyphs" stroke="#2f3c9e" stroke-width="0.35">Max. 100 meter systeem-</text>
<text x="620.6" y="481.7" font-size="6.2" fill="#2f3c9e" font-weight="bold" text-anchor="end" textLength="79.5" lengthAdjust="spacingAndGlyphs" stroke="#2f3c9e" stroke-width="0.35">kabel tot laatste videofoon</text>
<text x="17" y="579.8" font-size="6.6" fill="#505050" font-weight="normal" text-anchor="start" textLength="49.5" lengthAdjust="spacingAndGlyphs" stroke="#505050" stroke-width="0.2">www.nelec.com</text>
<text x="824" y="580" font-size="6.6" fill="#505050" font-weight="normal" text-anchor="end" textLength="61.5" lengthAdjust="spacingAndGlyphs" stroke="#505050" stroke-width="0.2">Copyright Nelec BV</text>
</svg>
</body></html>
